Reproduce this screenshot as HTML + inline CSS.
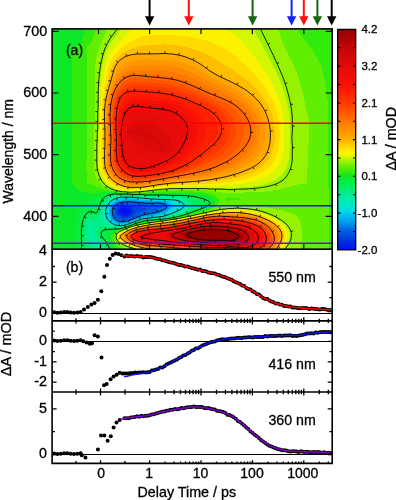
<!DOCTYPE html>
<html><head><meta charset="utf-8"><title>Transient absorption</title>
<style>html,body{margin:0;padding:0;background:#fff}svg{display:block}text{font-family:'Liberation Sans',Arial,Helvetica,sans-serif;fill:#000;stroke:#000;stroke-width:0.3px}</style>
</head><body>
<svg width="396" height="500" viewBox="0 0 396 500">
<rect width="396" height="500" fill="#fff"/>
<defs><clipPath id="hm"><rect x="52.1" y="28.9" width="280.09999999999997" height="220.29999999999998"/></clipPath>
<linearGradient id="cb" x1="0" y1="0" x2="0" y2="1"><stop offset="0.0000" stop-color="#960000"/><stop offset="0.0161" stop-color="#9f0101"/><stop offset="0.0323" stop-color="#a80202"/><stop offset="0.0484" stop-color="#b10303"/><stop offset="0.0645" stop-color="#ba0404"/><stop offset="0.0806" stop-color="#c30505"/><stop offset="0.0968" stop-color="#c90606"/><stop offset="0.1129" stop-color="#cf0707"/><stop offset="0.1290" stop-color="#d50808"/><stop offset="0.1452" stop-color="#db0909"/><stop offset="0.1613" stop-color="#e10a0a"/><stop offset="0.1774" stop-color="#e60b09"/><stop offset="0.1935" stop-color="#ea0c08"/><stop offset="0.2097" stop-color="#ef0d07"/><stop offset="0.2258" stop-color="#f30e06"/><stop offset="0.2419" stop-color="#f80f05"/><stop offset="0.2581" stop-color="#fa1305"/><stop offset="0.2742" stop-color="#fb1b04"/><stop offset="0.2903" stop-color="#fc2303"/><stop offset="0.3065" stop-color="#fd2c02"/><stop offset="0.3226" stop-color="#fe3401"/><stop offset="0.3387" stop-color="#ff3c00"/><stop offset="0.3548" stop-color="#ff4800"/><stop offset="0.3710" stop-color="#ff5400"/><stop offset="0.3871" stop-color="#ff6000"/><stop offset="0.4032" stop-color="#ff6c00"/><stop offset="0.4194" stop-color="#ff7800"/><stop offset="0.4355" stop-color="#ff8300"/><stop offset="0.4516" stop-color="#ff8e00"/><stop offset="0.4677" stop-color="#ff9900"/><stop offset="0.4839" stop-color="#ffa400"/><stop offset="0.5000" stop-color="#ffaf00"/><stop offset="0.5161" stop-color="#ffc300"/><stop offset="0.5323" stop-color="#ffd700"/><stop offset="0.5484" stop-color="#ffeb00"/><stop offset="0.5645" stop-color="#f7f700"/><stop offset="0.5806" stop-color="#d1f600"/><stop offset="0.5968" stop-color="#a4f300"/><stop offset="0.6129" stop-color="#78f000"/><stop offset="0.6290" stop-color="#57ed04"/><stop offset="0.6452" stop-color="#37ea08"/><stop offset="0.6613" stop-color="#16e81e"/><stop offset="0.6774" stop-color="#09ea32"/><stop offset="0.6935" stop-color="#04ec46"/><stop offset="0.7097" stop-color="#00ee5a"/><stop offset="0.7258" stop-color="#00ee72"/><stop offset="0.7419" stop-color="#00ee8a"/><stop offset="0.7581" stop-color="#00ed9e"/><stop offset="0.7742" stop-color="#00ebaf"/><stop offset="0.7903" stop-color="#00e9c0"/><stop offset="0.8065" stop-color="#00e4d1"/><stop offset="0.8226" stop-color="#00dce4"/><stop offset="0.8387" stop-color="#00c8eb"/><stop offset="0.8548" stop-color="#00b4eb"/><stop offset="0.8710" stop-color="#00a0eb"/><stop offset="0.8871" stop-color="#0089e8"/><stop offset="0.9032" stop-color="#0071e4"/><stop offset="0.9194" stop-color="#005ae1"/><stop offset="0.9355" stop-color="#004adf"/><stop offset="0.9516" stop-color="#003add"/><stop offset="0.9677" stop-color="#002be1"/><stop offset="0.9839" stop-color="#001deb"/><stop offset="1.0000" stop-color="#000ff5"/></linearGradient>
</defs>
<g clip-path="url(#hm)" shape-rendering="crispEdges">
<rect x="50" y="25" width="290" height="230" fill="#0be929"/>
<path fill="#05ec46" fill-rule="evenodd" d="M107 194L113 193.3L133 194.1L165 193.9L189 194.3L199 195.5L207 197.5L210 198.8L211.4 200L212.2 201L212.6 203L212 204.4L210.6 206L205 209L182.2 216L178 217.1L167.3 219L150 220.6L143 221.7L137 223.4L120.8 229L114 230.3L111 231.5L109.1 233L108.4 234L107.7 236L107.8 238L108.7 241L113.6 252L114.3 255L114.5 258L77 258L77.3 222L77.9 215L79.1 210L81 207.2L84 205.1L94 200.6L103 195.4Z"/>
<path fill="#00ee63" fill-rule="evenodd" d="M110 195L114 194.3L125 194.2L146 195.1L165 195.2L187 196L193 197.3L196.8 199L198.9 201L199.5 202L199.8 204L199.4 206L198.8 207L195.3 210L188.7 213L179.5 216L170.6 218L161 219.2L149 220.1L143 221.1L136 223.2L126 227L120 228.6L107 228.8L104 229.3L102.1 230L101 231L100.5 232L100.3 234L100.8 236L102 238.4L105.8 243L107.5 246L110 253L110.7 258L83.1 258L82.3 252L82.2 231L83.1 223L84.3 219L86 216.2L89 213.8L91 213.4L96 214.5L97 214.1L98 212.6L100.7 204L102.7 200L105.6 197Z"/>
<path fill="#00ee85" fill-rule="evenodd" d="M119 195L129 194.9L146 195.9L176 196.6L182 197.2L186 198.1L189.5 200L190.5 201L191.6 203L191.8 206L190.3 209L186.5 212L180 214.7L171.4 217L161 218.7L149 219.6L143 220.6L136 222.7L127.6 226L120 228L115 227.9L104 226.5L100.9 227L99.4 228L98.1 230L97.7 232L97.7 234L98.9 238L102.8 245L104.3 249L104.8 252L104.5 258L89.6 258L89.3 255L86.8 243L85.6 234L85.2 226L85.7 222L87 220.1L88 219.4L90 218.8L95 218.4L97 217.5L98 216.6L99.5 214L103 203.4L105 200.2L107 198.3L110 196.6L113 195.6Z"/>
<path fill="#00eda2" fill-rule="evenodd" d="M117 196L122 195.5L128 195.5L146 196.7L175 197.5L179 197.9L183.4 199L186.9 201L188.3 203L188.8 206L187.4 209L184 211.6L179 213.7L171.5 216L161 218.2L149 219.1L145 219.7L138 221.5L128 225.4L124 226.6L119 227.4L115 227L109 225.5L103.4 223L101.5 221L101 218L102.9 208L104 205L105.7 202L107.4 200L110.2 198L113 196.8ZM88 221.6L89 221.7L91 223L93.1 226L95.3 236L100.2 247L101.2 250L101.3 252L100 253.5L98 253.5L96 252.1L94 249L92 245L90 238.1L87.5 226L87.3 223Z"/>
<path fill="#00eab9" fill-rule="evenodd" d="M117 196.8L122 196.2L129 196.2L158 198.2L177 198.6L182 199.9L185 201.7L186.7 204L186.9 206L186 208.1L183 210.6L177.4 213L168.2 216L161 217.5L149 218.5L143 219.6L137 221.3L127.7 225L124.1 226L120 226.7L117 226.5L111.6 225L106.6 222L104.3 219L103.4 215L103.7 211L104.4 208L105.6 205L107.5 202L109 200.4L111 199L114 197.6Z"/>
<path fill="#00e4d2" fill-rule="evenodd" d="M122 197L131 197L151 198.8L176 199.7L180.9 201L182.6 202L184 203L184.8 204L185.2 206L184 208L180.9 210L171 214L165.1 216L160 217L145 218.5L138 220.4L126 224.9L121 225.9L119 225.9L115 225.1L112.5 224L108.6 221L107 219L105.6 216L105.2 214L105.3 211L106 207.8L107 205.4L109 202.4L110.4 201L115 198.4Z"/>
<path fill="#00d3e7" fill-rule="evenodd" d="M123 198L131 197.9L150 199.7L164 200.2L168 200.7L171 201.6L173 203L174.2 205L174.4 207L173.7 209L171.9 211L168.9 213L165 214.7L157 216.4L144 218.1L139 219.4L127 223.9L123 224.8L119 224.9L116 224.2L114 223.3L112 222L110.1 220L108.6 218L107.7 216L107.2 214L107.1 211L108.6 206L110 203.8L111.7 202L116 199.5L119 198.6Z"/>
<path fill="#00b7eb" fill-rule="evenodd" d="M125 199L130 198.9L150 200.6L160 200.8L165 201.2L167.7 202L169.4 203L170.9 205L171.1 207L170.5 209L168.8 211L166 212.7L162.7 214L157 215.3L143 217.5L138 219.1L130 222.2L125 223.6L121 224.1L117 223.5L115 222.6L112.7 221L111 219L109.8 217L108.8 214L108.6 212L109.3 208L110.2 206L111.6 204L115 201.3L119 199.8Z"/>
<path fill="#009aea" fill-rule="evenodd" d="M126 200L131 200L146 201.3L159 201.4L164 201.9L167 203L168.3 204L168.9 205L169.3 207L168.5 209L167 210.5L164.3 212L161 213.2L156 214.4L143 216.7L127 222.4L121 223.2L117 222.4L115 221.4L113.3 220L111.7 218L110.8 216L110.2 213L110.1 211L111.1 207L113 204.2L116 202.1L120 200.8Z"/>
<path fill="#0079e5" fill-rule="evenodd" d="M127 201L131 201L146 202.4L158 202.3L163 202.7L164.5 203L166.6 204L167.5 205L167.9 207L167 208.7L166 209.5L160.8 212L157 213.1L148 214.7L142 216.1L129 221.1L122 222.4L118.9 222L116.2 221L113.8 219L112.5 217L111.8 215L111.4 211L112 208L113 206L115 204L118 202.5L122 201.5Z"/>
<path fill="#0059e1" fill-rule="evenodd" d="M122 202.8L129 202.4L139 203.8L156 205.1L160 205.9L162.1 207L161.8 208L159 209.5L154 211.2L141 214.6L129 219.9L126 220.6L122 220.9L118.6 220L115.6 218L114 215.4L113.2 212L113.6 209L115.3 206L118.2 204Z"/>
<path fill="#0042de" fill-rule="evenodd" d="M120 204.8L123 204L128 204.4L132 205.3L137 207.3L141 207.3L146.2 208L147.2 209L144.9 210L138 212L132.9 216L129 218.2L126 218.9L123 218.8L120 217.9L118 216.7L116.4 215L115.5 213L115.5 210L116.3 208L118.1 206Z"/>
<path fill="#002de0" fill-rule="evenodd" d="M121 205.6L123 205.2L125 205.5L129 206.6L132 208L133.6 210L133.6 212L133 213L129.8 216L127 217.2L124 217.1L120 215.7L117.8 214L117.2 213L116.9 211L118.3 208Z"/>
<path fill="#0019ee" fill-rule="evenodd" d="M121 206.8L122 206.2L123 206.3L130 208.9L131.5 210L131.9 211L131.6 212L128.8 215L127 216.1L125 215.8L120 213.9L118.7 213L118 212L118 211Z"/>
<path fill="#000ff5" fill-rule="evenodd" d="M122 207.4L123 207.5L126 209.5L130.2 211L128.1 213L127 214.9L126 214.8L124 213.5L120 212.5L119.2 212L119 211L121 209.2Z"/>
<path fill="#32ea0b" fill-rule="evenodd" d="M89 22L335 22L335 258L118.1 258L117.8 255L116.9 252L112.5 243L111.2 239L111.1 237L111.6 235L113 233L114.2 232L117 230.6L133 225.1L141 222.8L150 221.2L162 220L175 218.1L183 216.3L204 210.4L209.9 208L212.8 206L214.2 204L214.6 203L214.6 201L213.6 199L212.7 198L209 195.8L202 194L193 193L186 192.7L165 192.6L133 193.6L109 192.1L93 192.8L87 192.5L83 191.7L79 190L76 188L73.2 185L72.4 183L72 181L71.8 174L72 53L72.5 50L74.5 47L77.4 45L80 44.3L81 43L84.4 33L87 27.9L88 24.7L88.4 22Z"/>
<path fill="#60ee03" fill-rule="evenodd" d="M97 22L296.1 22L297 27.1L300 33.7L304 39.8L308.7 45L312.3 50L315.8 56L320.8 66L322.2 70L323.6 76L327.5 99L328 104L328.2 113L328.8 258L122.7 258L122.3 255L121.2 252L115.2 243L113.5 239L113.4 237L113.9 235L115.2 233L116.4 232L124 228.7L132 225.9L139 223.8L151 221.6L168 219.6L178 217.9L205.4 211L211.1 209L214.7 207L216.8 205L218.2 203L218.9 201L218.9 200L218.5 199L216.9 197L214 195L209 193.2L203 192.1L190 191.2L173 191.1L163 191.3L149 192.4L133 193.2L122 192.6L116.4 192L105 189.7L99.4 188L91 184.4L89 183.8L88 183.9L87 183.4L86.6 179L86.5 171L86.7 50L87 46.7L90.1 44L93.3 37L95.7 29L96.5 22ZM224.8 199L225 200.2L228 200.6L236 200.2L239 199.6L246 199L238 198.5L228 198.4L226 198.5Z"/>
<path fill="#95f200" fill-rule="evenodd" d="M108 22.7L108 22L277.8 22L278.6 30L281.6 40L285.5 49L294.9 68L298.4 77L302.4 92L308.8 120L309.1 129L308.1 156L307 178L306.5 183L306 184.4L303 183.7L301 183.8L280 189.3L269 191.2L254 192.3L230 192.8L222 192.5L204 189.9L187 189.5L170 189.5L158 190.4L145 191.8L133 192.6L122 192.1L115.6 191L110 189.3L106.8 188L102.3 185L99.1 182L96.3 178L95.1 175L94.5 171L94.3 145L95.1 69L95.6 61L97.3 54L99.6 47L106.2 31L107.4 27ZM227 206L238 205.4L247 205.5L265 207.1L275.3 209L285 211.3L292 213.6L296 215.6L298 217.3L299.8 220L301 223.6L301.7 228L301.8 238L300.2 258L130.3 258L129.8 255L128.2 252L125.3 249L118 242.9L116.5 241L115.5 239L115.1 237L115.5 235L116.8 233L118 232L124.3 229L133 226L145 223.2L178 218.3L205.5 212L213.1 210L222 206.8Z"/>
<path fill="#d4f600" fill-rule="evenodd" d="M125 22L252.3 22L253.2 27L255.6 33L272 63.5L279.3 79L284.5 93L288.1 107L289.4 116L289.8 124L289.7 147L289.1 157L288 163L286.3 168L284 172.2L281 175.9L278 178.5L273.8 181L269 183L264 184.5L253 186.5L246 187.2L232 188.1L210 188.1L204 187.8L170 188.1L158 189.2L140 191.4L130 191.9L122 191.2L116 189.8L111 187.8L106 184.3L102.6 180L100.5 176L98.6 170L97.7 164L97.7 146L98.5 130L98.5 112L99 108L99.4 88L100.7 75L101.9 67L103.3 61L105.4 54L107.3 49L109.4 45L111.9 41L122 27.8L123.6 25L124.4 22ZM235 208.8L239 208.8L247 209.4L254 210.4L262 212.4L268 214.6L274 217.2L281 221.5L285.2 225L287.6 228L289.2 231L289.9 234L289.9 237L288.2 242L281.7 252L280.7 255L280.5 258L141.8 258L141.3 253L140.1 251L139.1 250L137.6 249L127 245.7L122 243.5L118.6 241L116.7 238L116.5 236L116.8 235L117.4 234L119.6 232L125.6 229L131 227L137 225.3L151 222.7L178 218.8L217 210.6L228 209.2Z"/>
<path fill="#fbf200" fill-rule="evenodd" d="M137 23.9L138 23.5L181 24.8L200 26.1L215 27.9L224 29.7L230 31.8L235 35L241 40.8L248 48.9L256 59.1L263 68.8L268.3 77L273 85.3L276.6 93L279.7 101L282 108.9L283.7 118L284.5 127L284.4 140L283.7 150L282.2 157L280 162.9L276.9 168L273.3 172L267.8 176L261 179.2L252 181.8L242 183.6L230.2 185L215 185.8L169 187L139 190.5L129 190.8L120 189.4L115.8 188L112 186.2L109 184.1L106.8 182L103.8 178L101.5 173L100 167L99.4 160L100.1 129L100.1 112L101.6 90L104.2 72L105.8 65L107.9 59L110 54.3L113 49.4L119 42.1ZM235 209.9L239 209.9L250 211L256 212.1L262 213.8L269 216.5L274 218.9L280 222.8L283.5 226L285.7 229L286.6 231L287.4 234L287.4 237L286 242L280.1 252L279.1 255L278.8 258L144.2 258L143.4 254L142.4 252L140.6 250L137.2 248L127 244.8L122 242.4L119 240L118.3 239L117.5 237L117.6 236L118.5 234L121 232L129.7 228L137 225.9L148 223.7L178 219.2L217 211.5L228 210.2Z"/>
<path fill="#ffd900" fill-rule="evenodd" d="M151 35L158 34.6L167 34.6L184 36L192 37.3L200 39L207 40.9L213.1 43L223 47.6L233 54.2L245 64.5L256 75.9L265 87.4L268.6 93L271.8 99L274.4 105L276.5 111L278 117L279 123L279.6 130L279.6 138L279 145L277.9 151L276.3 156L273.9 161L271 165.2L267.2 169L261.5 173L254 176.4L245 179.1L233 181.5L212 183.8L168 185.9L140 189.4L129 189.6L121 188.2L117 186.8L113.5 185L110 182.5L107.5 180L104.3 175L102.2 169L101.3 163L101.1 154L101.7 131L101.6 113L102.2 103L104.1 88L106.6 75L108.3 68L110.9 61L114 55.7L118 51L123 46.6L130 41.9L137 38.3L143 36.3ZM229 211L237 210.7L244 211.3L251 212.2L258 213.8L264.5 216L271.3 219L277 222.5L281 225.8L282.9 228L284.5 231L285.3 234L285.4 237L284 242L279.5 250L278.1 253L277.2 258L147 258L146.7 256L145.9 254L144.5 252L142.2 250L138 247.7L128 244.5L124 242.7L120 239.9L119 238.7L118.4 237L118.4 236L119 234.6L120 233.6L122.4 232L130 228.5L138 226.1L151 223.7L178 219.8L213 212.8Z"/>
<path fill="#ffbd00" fill-rule="evenodd" d="M150 45L164 44.4L177 45.4L189 47.8L201 51.9L207.8 55L215 58.9L233 70L246 79.4L251 83.7L256 88.5L263 96.9L266 101.4L268.5 106L270.7 111L272.4 116L273.6 121L274.5 127L274.9 133L274.8 139L274.3 144L273.3 149L271.6 154L269.6 158L267 161.7L264 164.9L260.2 168L256 170.5L250.7 173L244 175.3L236 177.5L228 179.3L209 181.9L168 184.7L142 188.3L131 188.6L124 187.6L119 186L114 183.3L109.9 180L107.4 177L105.3 173L104 169L103 164L102.8 153L103.3 131L103 114L103.6 104L104.7 96L110.8 70L113 64.1L115.4 60L119 56L123 52.8L129 49.7L135 47.6L142 46ZM227 211.9L239 211.8L247 212.6L257 214.7L263.8 217L270 219.7L275 222.7L279 226L281.6 229L283.1 232L283.6 235L283.5 238L282.3 242L276.4 253L275.5 256L275.2 258L151.6 258L151.2 256L150.1 254L146.9 251L140.5 248L126.3 243L121 239.8L120 238.8L119.1 237L119.1 236L120 234.6L123.8 232L130.2 229L140.6 226L151 224.1L178 220.3L213 213.5Z"/>
<path fill="#ffa700" fill-rule="evenodd" d="M137 54L166 53.5L176 54.6L181 55.6L186 57.1L192 59.4L196 61.4L215 74L238 85.3L245 89.4L250 93.1L258 100.7L262.7 107L265 111L266.7 115L269.4 124L270.4 132L270.4 139L269.9 143L268 150.3L266 154.8L263.9 158L259.1 163L256.4 165L252 167.6L245 170.8L238 173.3L229 176L221 177.8L209 179.9L190 181.9L167 183.6L141 187.3L134 187.4L129 187.3L123 186L120 184.8L116.5 183L112.4 180L109 176.2L107.2 173L105.7 169L104.6 163L104.4 153L104.9 148L104.9 135L104.9 128L104.5 124L104.5 111L105.5 101L107.5 92L113.9 70L115.1 67L117 63.6L120 60.1L124.6 57L130 55ZM225 213L229 212.6L238 212.6L247 213.6L252 214.6L261 217.2L267.5 220L272.8 223L276.7 226L279.6 229L281.3 232L281.8 234L281.8 238L280.1 243L274 253.7L273.2 256L273.1 258L167.2 258L167 254.1L166 252L164.9 251L162.5 250L149 248.9L145 248.2L136 246L130.4 244L126 242L121.8 239L120.4 237L120.4 236L121.1 235L123.7 233L127.2 231L133 228.6L142 226.2L154 224.2L178 220.9L211 214.5L218 213.5Z"/>
<path fill="#ff9800" fill-rule="evenodd" d="M136 60L146 59.3L165 59.7L175 61L184 63.3L190 65.5L196 68.4L212.6 78L236 89.7L241 92.6L245.8 96L252.4 102L257.9 109L261.5 116L264.1 124L264.8 128L265.1 133L264.4 141L263.4 145L262 148.7L258.2 155L255 158.6L251 162L246.4 165L240 168.3L233.4 171L225 173.7L217 175.8L208 177.6L195 179.5L167 182.4L148 185.2L139 186.2L131 186.2L125 185.1L120 183.3L115 180L111.8 177L109 172.8L107.1 168L106 162L105.8 154L106.3 138L105.8 113L105.9 109L107 101L108.8 93L111.8 84L115 75.9L118 70.3L121 66.7L125 63.6L130 61.4ZM221 214L229 213.5L237 213.6L243 214.2L252 215.7L259 217.7L264 219.6L270.3 223L274 225.8L277 229L278.9 232L279.7 235L279.8 238L278.3 243L271.9 254L271 258L170.3 258L169.9 255L168.6 252L166.6 250L165 249.2L160 248.2L145 247.3L137 245.7L132.2 244L127 241.5L124 239L123.1 237L123.5 235L124.2 234L127 231.9L132 229.5L140 227.2L151 225.2L169 223L181 221L208 215.5Z"/>
<path fill="#ff8800" fill-rule="evenodd" d="M138 64.9L149 64.6L164 65.3L174 66.7L183 69L194 73.4L212 82.6L229 90.8L236 94.6L242 98.6L248.2 104L253.1 110L257 117L259.4 124L260.3 132L259.7 139L257.5 146L254 152L250.5 156L247 159.1L242 162.6L236 166L230 168.7L223 171.3L216 173.4L207 175.5L194 177.7L171 180.6L148 184.1L140 184.9L132 184.9L127 184.3L122 182.8L117 179.9L113 176.1L110.3 172L108.4 167L107.5 162L107.1 155L107.7 138L107 114L107.5 106L108.3 101L109.9 94L112.3 87L116 79.1L119.4 74L123 70.4L127 67.9L132 66ZM216 215L222 214.6L235 214.6L243 215.2L249 216.1L256 217.7L261 219.4L266.4 222L270.9 225L274.1 228L276.3 231L277.6 234L278 238L277.5 241L276.8 243L275.2 246L270.3 253L269.3 255L268.7 258L173 258L172.4 255L171.4 253L169.7 251L166.6 249L164 248.2L161 247.7L144 246.5L136 244.7L131.4 243L127.7 241L125.4 239L124.5 237L124.5 236L125.5 234L127.9 232L133 229.7L140 227.8L151 225.7L169 223.6L178.8 222L205 216.5Z"/>
<path fill="#ff7900" fill-rule="evenodd" d="M135 69.9L144 69.5L161 70.5L172 71.9L181 74.1L188 76.5L196 79.9L227 94.4L237 100L243 104.6L248 110L252 116L254.9 123L256 129L255.9 136L254.3 142L251 148.4L248 152.2L244.1 156L240 159.3L234.1 163L228 166.1L220.9 169L207 173.2L191 176.4L152 182.4L142 183.6L134 183.7L129 183.4L124 182.2L119 179.8L115.6 177L112 172L109.9 167L108.8 162L108.4 155L109.1 138L108.3 115L109 104L110.6 96L112.6 90L115.4 84L119 78.6L122 75.4L126 72.6L130 71ZM212 215.9L221 215.2L236 215.6L242 216.1L252 217.7L261 220.4L266 223L270 225.8L272.2 228L274.4 231L275.8 234L276.4 237L276.3 240L275.4 243L273 246.9L266.9 254L266 256L265.6 258L176.8 258L176.1 255L174.9 253L172.8 251L169.3 249L164 247.5L144 245.8L136 244.2L132.9 243L129.1 241L126.6 239L125.5 237L125.8 235L128 232.6L133.8 230L140 228.3L153 226L169 224.1L182 222.1L205 217Z"/>
<path fill="#ff6800" fill-rule="evenodd" d="M135 74L140 73.9L165 76.1L172 77.1L179 78.8L185 80.7L194 84.3L208.7 91L225 97.9L234 102.6L239 106.1L244.8 112L249 118.2L251 123L252.3 128L252.3 135L251 140L248.5 145L245.5 149L240.6 154L235.5 158L230.9 161L225.4 164L218.6 167L206 171.2L188 175.1L155 180.8L143 182.3L130 182.3L124.1 181L120 179L116.5 176L113 171L111 166L110 161L109.6 155L110.4 137L109.5 116L110.1 105L111.2 99L113 92.7L115 88.1L119 81.9L122.8 78L126 75.9L130 74.5ZM217 215.9L236 216.6L246 217.6L254 219.2L259 220.7L262 222L266 224.3L269 226.6L273 231.6L274.2 234L275 237L274.9 240L274.1 243L272.1 246L270 248.1L261.3 254L259.8 256L259.3 258L185.3 258L184.5 255L183 253L180.5 251L178 249.8L171.8 248L165 247L149 245.7L138 244.1L134 242.8L130.4 241L127.8 239L126.5 237L126.7 235L128.7 233L132.6 231L140 228.8L151 226.8L169 224.7L180 223L208 217Z"/>
<path fill="#ff5700" fill-rule="evenodd" d="M136 78L142 78.3L164 80.4L172 81.6L179 83.3L193 88.5L219.1 100L227 104.1L232.4 108L237.4 113L240.8 118L243 123L244.2 129L244 134L242.7 139L240.2 144L237.4 148L233.6 152L228.8 156L224 159.3L218 162.6L211 165.8L197 170.6L182 174.3L163 178.1L154 179.7L142 181.1L134 181.2L130 180.8L125 179.5L121 177.4L118 174.8L114.6 170L112.8 166L111.6 161L111.1 155L111.7 136L110.9 117L111.5 106L112.8 99L114.5 94L117 89.1L120 85.2L123 82.3L127 79.8L131 78.5ZM215 217L220 216.6L242 218L252 219.7L260 222.4L264 224.6L267.1 227L270.5 231L272 234L272.9 237L272.9 240L272.4 242L271.3 244L269 246.7L265 249.4L261 250.6L254 251.3L236 249.7L193 248.5L190.8 248L176 247.5L149 245.1L141 244.1L135 242.5L130 239.9L128.2 238L127.7 237L127.6 236L128 235L130.1 233L133 231.5L140 229.3L151 227.4L177 224.2L206 218.1Z"/>
<path fill="#ff4600" fill-rule="evenodd" d="M135 81.9L143 81.9L159 83.3L169 84.7L177 86.5L186 89.3L196 93.4L211 100.2L220 105.1L225.4 109L229.4 113L232.9 118L235 123L235.9 128L235.7 134L234.3 139L231.7 144L228.7 148L224.7 152L220 155.7L214.9 159L208 162.7L200.9 166L185 171.6L176 174L163 176.8L151 178.8L142 179.8L136 179.9L131 179.5L127 178.4L123 176.5L119.8 174L116.6 170L114.3 165L113.1 160L112.6 155L113 138L112.3 117L113 107L113.8 102L115.3 97L117.2 93L120 89.2L123 86.4L127 84L131 82.6ZM212 217.9L220 217.3L242 218.9L252 220.7L258 222.7L264 226.2L266.2 228L268.6 231L270.1 234L270.8 237L270.8 240L270.3 242L269.3 244L267.7 246L265.2 248L263 249.1L257 250.5L248 250.6L246 250L236 249.1L207 248.6L203 248L193 247.8L169 246.3L149 244.5L141 243.5L135 241.9L132 240.6L130 239.2L128.7 237L129.2 235L131.4 233L135 231.4L140 229.8L150 228.1L174 225.2L203 219.3Z"/>
<path fill="#fe3701" fill-rule="evenodd" d="M132 85.8L139 85.3L151 86L164 87.4L174 89.3L182 91.6L191 94.9L204 100.6L213 105.2L218 108.4L222.2 112L225.6 116L228.3 121L229.7 126L229.9 131L229 136L226.9 141L224.1 145L220.4 149L215.7 153L210 157L203.3 161L195.6 165L188.8 168L180.7 171L172 173.6L164 175.4L151 177.5L141 178.6L136 178.7L132 178.2L128 177.2L125 175.8L121.2 173L118 169L115.9 165L114.6 160L113.9 151L114.2 139L113.8 130L113.8 114L114.5 107L115.4 102L116.7 98L118.8 94L121 91.3L124 88.9L128 86.9ZM210 219L220 218.1L234 218.8L247 220.6L255.9 223L260 224.9L263 226.9L265.3 229L266.9 231L268.4 234L269.1 237L269.1 240L268.6 242L267.6 244L266 246L264 247.6L262 248.6L257 250L254 250.3L249 250.2L236 248.8L220 248.2L207 248.1L204 247.7L193 247.3L190 246.9L162 245.3L149 244L141 242.9L135 241.3L131 239.3L129.8 238L129.5 237L130.1 235L132.5 233L137.7 231L142 229.9L150 228.6L161 227.6L170 226.4L183 224.1L197 221.1Z"/>
<path fill="#fd2c02" fill-rule="evenodd" d="M132 88.9L138 88.6L152 89.5L164 90.8L173 92.5L181 94.7L189 97.6L200 102.3L208 106.2L213 109.2L217.8 113L221.3 117L223.5 121L224.8 125L225.2 130L224.6 134L222.6 139L220 142.7L217 146L212.5 150L205.8 155L193 163.2L185.7 167L178.6 170L171 172.5L164.6 174L150 176.4L141 177.4L136 177.4L132 176.9L129 176.1L126.5 175L122.4 172L119.9 169L117.6 165L116 160L115.5 157L115.1 150L115.5 139L115 131L115 116L115.5 110L116.5 104L117.6 100L119.5 96L122 93.1L124 91.5L128 89.7ZM219 218.9L227 219L242 220.6L252.9 223L257.9 225L261 226.8L263.7 229L266.4 233L267.4 236L267.6 238L267.4 241L266.7 243L265.4 245L263.3 247L259.1 249L254 249.9L249 249.9L229.9 248L207 247.7L169 245.2L152 243.7L141 242.3L137 241.3L133.3 240L131.6 239L130.5 238L130.2 237L131 235L133.9 233L139.5 231L143 230.2L150 229.2L165 227.8L178 225.6L203 220.6L212 219.4Z"/>
<path fill="#fc2003" fill-rule="evenodd" d="M133 92L144 92.3L156 93.3L170 95.4L177 97.2L186 100.3L192.3 103L202.2 108L208 111.8L211.7 115L214.3 118L216.6 122L217.8 126L218.1 130L217.3 134L215.5 138L212.8 142L209.1 146L203.6 151L196.1 157L190.5 161L183.9 165L175.5 169L169.7 171L162 172.9L145 175.6L140 176L136 176L131 175L128 173.9L123.9 171L121 167.6L118.5 163L117.3 159L116.4 150L116.7 144L116.6 135L116.2 131L116.4 117L117 111L118.2 105L119.6 101L121 98.3L123 95.8L126 93.7L129 92.6ZM217 220L220 219.6L226 219.8L241 221.3L250 223.3L257 226L261.5 229L263 230.6L264.6 233L265.6 236L265.9 238L265.9 240L264.9 243L262.4 246L259.1 248L254 249.3L248 249.5L230 247.7L207 247.2L157 243.7L142 241.9L137 240.8L133 239L131.9 238L131.5 237L131.7 236L132.5 235L133.9 234L138.3 232L142 231L146 230.3L161 228.9L171 227.5L204 221.1L212 220.1Z"/>
<path fill="#fb1504" fill-rule="evenodd" d="M135 96L143 95.9L154 96.8L163 97.9L171 99.5L178 101.7L184 104.1L190 107.3L195.3 111L199.6 115L202.6 119L204.6 123L205.8 128L205.7 133L204.4 138L201.9 143L198.2 148L191.5 155L183 161.6L175 166.1L166 169.5L152 172.8L145 173.9L139 174.3L136 174.1L132 173.3L128.7 172L125.6 170L123 167.4L120.8 164L119.2 160L118.3 156L117.8 150L117.4 130L118.1 117L120 108L121.3 105L123.2 102L125 100L128 97.9L131 96.7ZM211 220.9L220 220.4L233 221.2L243 222.6L251.7 225L257.6 228L260 230L261.7 232L262.8 234L263.7 237L263.7 239L263.3 241L261.7 244L260 245.7L257.9 247L253 248.8L248 249.1L227 247.1L209 246.9L157 243L149 242.3L139 240.7L135 239.4L133.5 238L133.3 237L133.6 236L135 234.5L137.9 233L143 231.5L151 230.2L156 230L171 228.1L201 222.2Z"/>
<path fill="#f70e06" fill-rule="evenodd" d="M133 100L138 99.3L146 99.6L160 101.1L169 102.7L175 104.5L181 107.1L186 110L191 114.1L194.3 118L197.1 123L198.4 128L198.4 133L197.3 138L195.1 143L191.2 149L186.8 154L179.6 160L172 164.5L163 168L151 171.3L143 172.4L139 172.5L135 172.2L132 171.5L129 170.2L125 167.3L123.1 165L121.4 162L120.4 159L119.5 155L119 149L118.5 131L119.1 121L119.7 117L120.9 112L122.1 109L123.8 106L126 103.5L128 102L130 100.9ZM207 221.9L213 221.3L220 221.1L225 221.4L241 223.2L250 225.5L256 228.5L259.8 232L261 234L261.7 236L261.9 239L261.4 241L259.5 244L255.3 247L253 247.9L250 248.5L245 248.6L227 246.8L210 246.4L149 241.7L138 240L135.4 239L134.5 238L134.4 237L134.8 236L137 234.3L140.2 233L145 231.8L175 228Z"/>
<path fill="#f00d07" fill-rule="evenodd" d="M134 102.9L139 102.6L149 103.4L162 104.8L170 106.5L175 108.1L180 110.6L184.6 114L188 117.4L190.5 121L192.5 126L193.1 131L192.4 136L190.7 141L187.5 147L183.7 152L178.6 157L172 161.5L165 164.9L153 169L146 170.5L138 170.9L133 170.1L128.2 168L124.9 165L122.9 162L121.8 159L120.8 155L120.2 150L119.7 130L120.5 121L122.2 114L123.4 111L125.1 108L127 106L129 104.6L131 103.6ZM211 222L220 221.8L237 223.5L244 224.7L249 226.1L255 229.3L257.1 231L258.7 233L259.8 235L260.3 237L260.4 239L259.8 241L257.6 244L254 246.5L249.2 248L245 248.2L227 246.4L210 246L176 242.9L149 241.1L140.7 240L136.6 239L135.3 238L135.2 237L135.9 236L137 235.2L140 233.9L145 232.5L154 231.1L179 228.1L201 223.5Z"/>
<path fill="#ea0c08" fill-rule="evenodd" d="M133 105.8L138 105.6L152 107.3L160.8 108L170.7 110L177.5 113L180.3 115L184.4 119L187 123L188.2 126L188.7 130L188.3 134L186 141L183.1 147L180.3 151L176.6 155L171.2 159L163.6 163L153 167L145 169L135.7 169L131.9 168L129.6 167L126 164L124 160.7L122 153.3L121.5 143L121 140L121 128L122 121L123 117L125 112.1L126 110.4L128 108L130 106.8ZM208 223L212 222.5L220 222.6L237 224.4L245.2 226L250.5 228L255.1 231L257 233L258 234.6L259 237.9L258.9 239L257.5 242L254.3 245L249.9 247L245 247.7L227 246L203 245L163 240.9L148 240L147 239.6L140 239L136.6 238L136.6 237L137.8 236L140.1 235L147.6 233L179 228.8L201 224.1Z"/>
<path fill="#e40b09" fill-rule="evenodd" d="M141 114L145 114L150 114.8L156 116.3L161 118L165.1 120L169 122.5L172 125.2L174.3 128L176.1 131L177.3 135L177.6 138L177.1 142L175.8 146L173.5 150L171 153L168.6 155L164 157.2L159 158.4L152 158.9L146 158.3L141 156.9L136 154.3L132 150.9L129 147L126 141.5L124.1 136L123.6 132L124.4 128L127 122.6L131 117.9L135 115.3L138 114.4ZM206 223.9L212 223.2L219 223.3L236 225.3L241 226.1L245 227.2L250 229.6L253.8 233L254.9 235L255.5 237L255.1 240L253.2 243L250 245.3L245 246.9L241 247L221 245.2L203 244.4L179 242L168.5 240L166.7 239L165.1 237L164.9 236L165.3 234L167.4 232L169 231.3Z"/>
<path fill="#dc0909" fill-rule="evenodd" d="M140 120.8L142 120.7L145 121.1L148 122.1L152.2 124L157.2 127L164 131.6L168 134.8L170 136.8L171.3 139L171.4 141L168.4 149L167 151.2L165 152.5L162 152.8L157 152L152 150.4L145 147.4L138 143.8L133 140.6L129 137.1L127 134.6L126.4 133L126.4 131L127 129.9L129 127.7L135 123.1L138 121.4ZM212 224L218 224.1L232 225.6L240 226.9L244 228.1L248 230.1L251.3 233L252.8 236L252.9 238L252.5 240L250.4 243L247 245L243 246L237 246L221 244.7L203 243.9L179 241.3L174 240.4L170 239L168.6 238L167.6 236L168.1 234L168.9 233L170.5 232L173 231.2L202 225.2Z"/>
<path fill="#d40808" fill-rule="evenodd" d="M140 124.8L141.4 125L145.7 128L151.2 133L152.5 135L152.8 136L153.8 137L157.7 139L160.5 141L163 144.5L165 149.1L164 149.8L159.6 147L152.2 141L149 137.2L135 135.1L132 134.3L128.9 133L128.2 132L129 131.3L135 130.6L137 129.9L138.7 128L139.2 126ZM209 224.9L216 224.8L223 225.3L235 226.8L242 228.5L246 230.4L249.3 233L250.9 236L251.1 238L250.6 240L249.2 242L248 243L246 244.1L243 244.9L238 245.2L224 244.7L194 242.6L180 240.8L172 238.8L170 237.5L169.2 236L169.2 235L170 233.6L171 232.9L174 231.7L196 226.9L202 225.8Z"/>
<path fill="#cb0606" fill-rule="evenodd" d="M207 226L215 225.5L223 226.1L235 227.7L240.3 229L244.7 231L248 233.6L249.4 236L249.4 239L248.4 241L247 242.2L245 243.3L242.1 244L238 244.4L224 244.2L221 243.7L201 242.7L185 241L175.2 239L172.5 238L170.9 237L170.3 236L170.4 235L171 234L172.8 233L176 232L194 227.8L203 226.2Z"/>
<path fill="#c20505" fill-rule="evenodd" d="M203 226.9L209 226.4L216 226.4L228 227.4L237 229.1L241.8 231L244.6 233L246.6 236L246.7 238L245.9 240L244.9 241L242 242.6L238 243.5L230 243.7L201 242.2L190 241.1L183 239.7L180 238.4L178.6 237L178.3 235L178.7 234L179.6 233L181.2 232L183.7 231L190 229.3Z"/>
<path fill="#b60404" fill-rule="evenodd" d="M201 228L209 227.2L215 227.1L227 228.1L234 229.4L239 231.1L242 233L243.5 235L243.8 236L243.7 238L243.3 239L242 240.6L239 242.1L234 243L227 243L201 241.6L190 240.3L184 238.7L182.8 238L181.5 236L181.7 234L182.4 233L185 231.5L190 230Z"/>
<path fill="#a90202" fill-rule="evenodd" d="M209 228L216 228L224 228.6L230 229.5L235 230.7L239 232.3L241 233.8L242.1 236L241.9 238L240.5 240L237 241.7L233 242.3L227 242.3L205 241.3L196 240.5L189 239.4L186 238.5L184 237.4L183 236L183.2 234L184 233L185.7 232L188.5 231L200 228.8Z"/>
<path fill="#9c0101" fill-rule="evenodd" d="M207 229L219 228.9L228 229.9L232 230.8L235.9 232L239 233.5L240.5 235L240.9 237L239.8 239L237 240.7L233 241.5L228 241.6L223 241.2L206 240.9L196.9 240L187.2 238L185 237L184 235.5L184.3 234L185.5 233L187.6 232L191 231L201 229.4Z"/>
<path fill="#960000" fill-rule="evenodd" d="M207 230L219 229.8L227.9 231L231.4 232L236 234L238.5 236L238.6 237L238 238L236.5 239L233.8 240L232 240.2L228 240.5L206 240.2L196.5 239L189.7 237L187.6 236L186.5 235L187.6 234L189.6 233L192.7 232L201 230.4Z"/>
</g>
<g clip-path="url(#hm)" fill="none" stroke="#000">
<path stroke-width="0.85" stroke-linejoin="round" d="M125.5 201.9L122 202.3L119.5 202.8L117.5 203.6L115.8 204.5L114.5 205.5L113.8 206.5L113 208L112.3 211L112.3 212L112.8 215L113.3 216.5L114.5 218.4L115.5 219.4L117 220.4L118.2 221L121 221.6L122.5 221.7L126.5 221.2L129 220.5L133.3 219L138 216.8L142 215.3L148.5 213.7L150 213.5L155.2 212.5L160.4 211L162.8 210L164.7 209L166.1 208L166.4 207.5L166.6 207L166.7 206.5L166.5 205.8L165.9 205L165.2 204.5L164.1 204L163 203.7L159.5 203.1L156.5 203L153 203.4L145.5 203.3L142.5 202.9L139 202.7L137 202.4L133 202.2L130.5 201.8L127.5 201.7L125.5 201.9M120.5 197.4L118 197.8L114.5 198.9L111.6 200.5L110.3 201.5L109 203L107.1 206L106.2 208.5L105.7 210.5L105.6 211.5L105.6 214L106.1 216L107.2 218.5L108.7 220.5L110.8 222.5L113.1 224L114.5 224.7L116 225.2L119 225.7L121 225.8L124 225.2L126.5 224.6L130 223.5L137 220.7L142.5 219L148 218L151.5 217.8L153.5 217.4L157 217.2L160.5 216.7L164 216.1L166 215.5L170.2 214L176.2 211.5L179.4 210L182.1 208.5L182.7 208L184 206.6L184.2 206L184.2 205.5L184 204.5L183.2 203.5L181.9 202.5L180.2 201.5L179 201L175.4 200L166.5 199.5L157.5 199.4L155 199L150.5 199L148.5 198.6L145 198.5L142.5 198.1L139.5 198L137.5 197.6L133.5 197.5L131 197.2L123 197.1L121.5 197.2L120.5 197.4M111.8 258L111.7 255L111 252.3L110.5 250.9L108 245L106.5 242.4L102.7 238L102 236.7L101.5 235.6L101.1 234L101.2 232.5L101.8 231.5L103.1 230.5L104.3 230L107.5 229.4L118 229L120 228.8L127.5 226.6L132.5 224.6L138 222.6L141.5 221.6L146 220.7L149.5 220.1L153 220L155.5 219.6L161.5 219.3L163.5 218.9L167.5 218.6L171.3 218L178.3 216.5L183.6 215L191.1 212.5L193 211.7L198 210L203.3 208L207 206L208.9 204.5L209.5 204L210 203.1L210 202.4L209.2 201.5L207.5 200.5L205.1 199.5L202.2 198.5L196.6 197L195 196.8L193.5 196.4L190.5 196.1L188 195.7L180 195.4L168.5 195.3L165 195L146 195L142.5 194.6L132.5 194.6L129 194.2L116.5 194.1L113 194.1L110 194.7L107.5 195.5L105.5 196.5L104.5 197.2L103.2 198.5L102.1 200L100.3 203.5L98 210L97 212.3L96.5 213L96 213.2L95.5 213.1L93 211.9L91.5 211.4L90.5 211.4L89 211.8L87.5 212.7L86 214.1L85 215.5L83.8 218L82.9 220.5L82.3 223L81.9 226L81.7 228.5L81.4 231L81.5 247.5L81.1 250.5L81.1 252.5L81.2 254.5L81.9 258M257.7 22L258 23.2L260.5 29L273.4 55.5L276.8 63L280.3 71L282.8 77L286.3 87L287.7 92L289.2 97.5L290.7 104.5L291.7 111L291.9 114L292.2 115.5L292.3 117L292.4 131L292.3 132L292 134L291.9 137.5L292 141.5L292.3 143.5L292.4 145L292.2 160L291.7 164L291.1 166.5L290.3 169L288.9 172.5L286.8 176L284.8 178.5L282 180.8L278.2 183L274.5 184.6L272 185.4L268.5 186.3L265.5 186.9L262.5 187.4L260.5 187.6L258.5 188L255.5 188.2L254 188.5L249.5 188.7L247 189L236.5 189.2L233.5 189.6L230 189.6L227.5 189.6L224.5 189.2L209 189L206 188.6L204.5 188.6L170 188.6L167 189L162.5 189.2L161 189.4L158.5 189.6L156.5 189.9L154 190.1L152.5 190.4L150.5 190.6L148.5 190.9L146.5 191L144.5 191.4L142 191.5L140 191.8L135 191.9L132 192.2L128 192.1L126 191.8L122.5 191.7L118.2 191L114.5 190L111 188.7L108 187.1L105.8 185.5L104.5 184.3L102.2 181.5L100.7 179L99.7 177L98.7 174.5L97.9 171.5L97.4 169L96.8 164.5L96.8 145L96.9 143.5L97.2 141L97.3 132.5L97.7 129.5L97.7 112L97.7 110.5L98 109L98.1 107.5L98.3 87L98.7 84L98.8 79.5L99.2 77L99.3 74L100.4 66.5L101.4 61L102.4 57L103.6 52.5L104.8 49L107.2 43.5L109.2 40L111.2 37L117.6 28.5L119.5 25.7L120.5 24.1L121.5 22M140.4 258L140.3 255L140 253L139 251.4L137.6 250L136.6 249.5L134 248.5L127 246.4L124 245.1L120.5 243.2L119 242.1L117.9 241L117.1 240L116.5 239L116.1 237.5L116 236.5L116.2 235.5L116.6 234.5L117.2 233.5L118.3 232.5L119.8 231.5L123.9 229.5L130.5 227L137 225.1L142 224.1L151 222.5L168.5 220.1L178 218.6L188.5 216.4L208.5 211.9L219.5 209.7L221.5 209.5L223 209.1L225.6 209L227.5 208.6L233 208.5L235 208.2L237.5 208.1L240 208.2L242 208.5L247 208.7L248.7 209L251 209.1L252.7 209.5L254 209.6L257 210.2L261 211.2L267 213.1L273.5 215.8L279 218.8L281.5 220.3L284 222.2L286.1 224L287.5 225.5L289.4 228L290.8 231L291.2 232.5L291.4 233.5L291.3 237.5L290.7 240L289.3 243L287.3 246L284 250.4L283 252.1L282 254.7L281.8 258M167.3 258L167.1 254.5L166.5 252.8L166 252L165.5 251.5L164.9 251L164 250.5L162.6 250L161.5 249.8L160.5 249.5L149.5 248.9L147.5 248.5L144.5 248.1L137.5 246.4L134 245.3L128.5 243.2L126 242L124.4 241L121.7 239L121 238.2L120.5 237.5L120.3 237L120.2 236.5L120.3 236L120.6 235.5L121.1 235L123.7 233L127.2 231L130.6 229.5L134.5 228.2L138 227.1L142 226.2L147.5 225.2L154.5 224.1L156.5 223.9L158 223.6L165 222.9L166.5 222.6L168.5 222.4L172.5 221.9L181 220.4L205 215.5L217.5 213.5L220 213.4L222 213.1L226 212.9L228.5 212.6L235.5 212.5L238 212.6L240 212.9L243 213.1L245 213.4L247 213.6L252.5 214.7L257.5 216L262 217.6L267.5 220L272 222.4L274.9 224.5L278.3 227.5L279.5 228.9L280.2 230L281.3 232L281.8 234L281.9 237L281.6 239L281 241L279.8 243.5L275.6 250.5L274.1 253.5L273.2 256L273.1 258M161 53.5L166 53.5L168.5 53.8L172.5 54L178.5 55L181 55.6L186 57.1L192.5 59.7L196.5 61.7L200.5 64.2L203.5 66.2L209.3 70.5L215 74L219.7 76.5L231 81.8L237 84.8L244.5 89.1L247.5 91.2L252.3 95L255.5 98.1L258.5 101.2L261.4 105L264.2 109.5L265.2 111.5L266.9 115.5L267.9 118.5L269.4 124L270.3 130.5L270.4 133L270.3 140L270 141.5L269.8 143.5L269.3 146L268.8 148L268 150.4L266.5 153.9L265.5 155.6L264 157.9L262 160.2L259.1 163L256.5 165L252.5 167.4L249.5 168.9L244.5 171L238.5 173.2L234.5 174.4L227.5 176.4L221 177.8L209 179.9L203 180.5L201 180.9L198 181L195.5 181.4L192.5 181.5L190 181.9L186 182L183 182.4L178.5 182.5L176 182.9L172.5 183L170 183.4L167 183.6L165 183.9L159 184.6L148.5 186.4L141 187.4L130 187.4L126.5 186.9L124 186.3L120 184.8L116.5 183L112.5 180.1L111 178.6L108.5 175.5L107 172.5L105.6 168.5L105.1 166.5L104.6 163L104.5 152L104.5 150.5L104.9 148L104.9 136.5L104.9 128.5L104.6 126L104.5 124.5L104.5 109.5L104.9 106.5L105.1 103.5L106.6 96L108.6 88.5L114 69.5L115.3 66.5L116.7 64L118.5 61.6L119.5 60.5L121.5 58.9L123.7 57.5L125.5 56.6L128 55.6L131.5 54.7L134 54.4L136 54L158 53.8L161 53.5M130 76L131 75.7L132.5 75.6L139.5 75.6L149.5 76.8L152.5 77L155 77.3L158.5 77.5L161 77.9L164 78L171.5 79.1L176.5 80.1L183.5 82.2L192 85.6L207.4 92.5L224 99.3L226.6 100.5L230.5 102.5L233.1 104L236.8 106.5L240.8 110L243.5 113.1L245 115.1L246.5 117.4L248 120.1L249 122.5L250 125.4L250.6 128L250.7 129.5L250.7 133.5L250.5 135.4L249.5 138.9L248.5 141.3L247 143.9L246 145.4L244.4 147.5L241.7 150.5L238 153.9L233.3 157.5L229.5 160L226 162L222 164L215 167.1L211.1 168.5L205.5 170.3L197.5 172.3L188 174.3L186.5 174.5L182.5 175.4L181 175.6L154.5 180.4L151 180.9L149 181.1L147.5 181.4L144.5 181.6L142.5 181.9L136.5 182L130.5 181.9L127.5 181.3L125 180.6L123.3 180L121.3 179L119 177.5L117.5 176.1L116.5 174.9L114.4 172L113 169.5L111.8 166.5L111.2 164L110.6 161L110.5 157.5L110.2 155.5L110.5 153L110.6 145.5L110.9 142.5L111 136L110.9 134.5L110.5 132L110.5 122L110.1 119L110 116.5L110.1 112.5L110.4 110L110.6 105.5L111.7 99.5L113 94.6L114.5 90.8L115.5 88.8L117 86.2L119 83.4L120.5 81.6L123 79.3L126 77.4L128 76.5L130 76M215.5 216.5L217.5 216.2L220.5 216.1L223 216.4L228 216.5L230.5 216.8L236 217L238.5 217.4L242.5 217.5L244 217.9L246.5 218.1L252.5 219.2L257.5 220.6L261 222L263 223.1L265.5 224.6L268.6 227L270 228.5L272.1 231.5L273.6 234.5L274.3 237L274.3 239L274.2 240.5L273.5 242.7L272 245.1L270.2 247L269 248.1L267 249.3L265.5 250.1L263.5 250.8L261 251.5L258 251.8L254 252L252 251.9L247.5 251.9L246 251.5L239 251.5L236.5 251.3L222 251.4L221 251.2L220.5 251L219.5 250.9L205.5 250.4L204.5 250.3L203.5 250L192.5 249.5L190.5 249L183.5 248.7L180.5 248.2L174.5 247.9L172.5 247.5L167 247.1L164.5 246.7L160.5 246.5L158 246.1L154.5 246L152 245.6L149 245.5L147 245.1L144.5 245L141 244.4L138 243.8L135 242.9L131.5 241.3L130 240.4L128.3 239L127.2 237.5L126.8 236.5L126.9 235.5L127.5 234.5L128.5 233.5L129.2 233L131.5 231.7L133 231.1L136 230.1L140 229L144.5 228.1L150.5 227.1L156 226.5L158 226.1L160.5 226L162.5 225.6L165 225.5L167 225.1L169.5 224.9L171 224.6L173 224.4L177 223.8L182.5 222.8L196.5 219.7L205.5 217.7L212 216.7L215.5 216.5M130.5 91.5L132.5 91.2L136.5 91.1L139 91.4L144.5 91.6L147 92L151.5 92.1L153.5 92.4L156.5 92.6L158.5 92.9L161 93.1L165 93.7L170 94.6L174.5 95.7L178 96.7L186 99.3L192 101.8L198.2 104.5L202.3 106.5L209.5 110.5L214.2 114L217 116.8L218.5 118.9L219.5 120.5L220 121.4L221 124L221.5 126L221.6 127L221.5 131.8L221 133.6L220 136.1L218 139.3L214.4 143.5L210.5 147L203 153.1L196.4 158L192.1 161L189.7 162.5L183.5 166L177 169L174.4 170L169.7 171.5L165 172.7L157 174.2L145.5 175.9L142.5 176L140 176.4L136 176.3L132.5 175.8L130.5 175.3L127.5 174.1L126 173.1L123.5 171.2L122.4 170L120.5 167.5L119.5 166L118.3 163.5L117.1 159.5L116.6 156.5L116.4 152L116.1 150L116.4 147.5L116.5 142.5L116.4 135L116.1 133L116 131.5L116.1 117L116.5 114L116.7 110.5L117.8 104.5L119 100.5L120.5 97.5L121.5 96.1L122.5 95L123.7 94L125 93.1L127.7 92L130.5 91.5M220 219.5L226.5 219.6L229.5 220L233.5 220.1L241.5 221.2L246.5 222.2L250.5 223.2L254.5 224.5L257.5 225.9L259.4 227L262.1 229L263.5 230.5L265 233L266.1 236L266.4 238L266.2 240.5L265.4 243L264.4 244.5L262.4 246.5L260.7 247.5L258.5 248.5L256.9 249L254 249.6L248.5 249.6L246.5 249.3L241.5 248.9L236.5 248.3L232 248L229.5 247.7L219.5 247.4L207.5 247.4L204.5 247L199.5 246.9L196.5 246.5L192.5 246.4L190 246L185.5 245.9L182.5 245.5L177.5 245.4L174.5 245L169.5 244.8L167 244.5L162.5 244.3L160.5 244L157 243.8L155 243.5L152.5 243.4L141.5 241.9L137 240.9L135 240.2L132.6 239L131.5 238L131.1 237.5L131 237L131.3 236L132 235L132.6 234.5L134.3 233.5L137.9 232L140 231.3L142.5 230.8L145.5 230.2L148.5 230L150.5 229.6L155.5 229.4L158 229L161 228.8L170.5 227.4L181 225.5L197 222.2L199 221.9L203.5 221.1L205.5 220.9L207.5 220.5L210 220.3L212 220L216.5 219.9L220 219.5M134 106.5L138.5 106.5L140 106.7L142 106.9L146.5 107.6L149 107.8L151 108.1L154.5 108.3L157 108.7L160 108.9L162 109.2L164 109.5L168.8 110.5L170.6 111L173.1 112L177.1 114L179.7 116L181.5 117.6L183 119.2L184 120.4L185 121.9L186 123.7L187 126L187.5 128.5L187.6 131L187.5 132.3L187 134.5L186 137.9L184 143L182.5 146L180 150L177.9 152.5L176 154.5L173.5 156.5L171.4 158L168.1 160L164 162L155.2 165.5L150.8 167L147 168L144 168.4L142 168.5L137 168.4L134.8 168L133 167.5L130.4 166.5L128.2 165L126.5 163.3L125.5 162L124.5 160L123.5 157.1L122.6 153L122.4 151L122 148.5L121.9 143L121.4 140L121.3 132.5L121.4 128L121.7 126.5L122 123.6L122.5 121.2L123.5 117.5L125 113.8L126.5 111L128 109.1L129.5 108L131.5 107.1L134 106.5M209.5 223L212 222.6L219.5 222.6L221.5 222.9L223.5 223.1L225.5 223.4L227.5 223.5L229.5 223.9L232 224.1L233.5 224.4L236.5 224.6L238.5 224.9L240.5 225.1L245 226.2L247.5 227L250.5 228.3L252.4 229.5L254.5 231L256.5 233.1L257.4 234.5L257.9 235.5L258.5 237.5L258.5 238.8L258 240.4L257 242L255.6 243.5L253.6 245L251.8 246L249 247L246 247.5L245 247.6L242 247.6L233 246.7L227.5 246L223.5 245.9L220.5 245.5L211 245.4L208 245L203 244.9L201 244.6L197.5 244.4L196 244.1L193 244L191 243.6L188.5 243.5L186.5 243.1L183.5 243L181.5 242.6L178.5 242.4L176.5 242.1L173.5 241.9L171 241.5L166 241.1L163.5 240.6L156.7 240L155.5 239.6L153 239.3L148.9 239L148 238.6L146 238.3L143.4 238L142.5 237.6L141.2 237.5L140.4 237L141.2 236.5L142 236.3L142.4 236L143.5 235.8L145.2 235L146.9 234.5L148 234.3L148.7 234L150 233.8L150.7 233.5L152.5 233.2L154.5 232.7L157 232.4L158 232L160 231.8L162.5 231.3L166 230.9L167.5 230.4L171 230.1L173 229.7L175.5 229.4L177.5 229.1L179.5 228.9L187.5 227.3L201.5 224.1L207 223.2L209.5 223M206.5 226.5L209 226.1L214.5 226L216.5 226.1L218.5 226.4L223 226.6L225 226.9L227.5 227.1L229.5 227.4L231.5 227.6L234.5 228.1L238.5 229.1L242.5 230.6L243.9 231.5L246 233L247.4 234.5L248 235.5L248.5 237L248.5 238L248.4 238.5L247.7 240L246.3 241.5L244.5 242.5L242 243.3L239 243.8L237.5 243.9L224.5 243.8L222 243.5L218 243.4L215.5 243L210.5 243L207.5 242.6L201 242.4L199 242.1L194.5 241.9L192.5 241.5L189.5 241.3L188 241L185.5 240.7L179.8 239.5L176.8 238.5L173.4 237L172.2 236L171.9 235.5L172.2 235L172.9 234.5L173.8 234L176.1 233L185.5 230.2L194 228.2L199.5 227.2L203 226.6L206.5 226.5M207 230L209.5 229.7L219 229.8L221 230.1L224 230.3L227.5 230.9L231.4 232L235.1 233.5L238.3 235.5L238.7 236L238.8 236.5L238.7 237L238.5 237.5L238 238L236.6 239L235.5 239.5L233 240.2L230.7 240.5L227.5 240.6L225 240.4L206 240.2L203.5 239.9L200 239.6L198.5 239.3L196.4 239L190.5 237.2L189.6 237L186.7 235.5L186.4 235L187.5 234L189.6 233L190.8 232.5L194 231.7L196 231.3L197 231L201.5 230.3L207 230"/>
<path stroke-width="0.8" d="M121.5 202.4l0.5 2.2M112.9 208.1l2.2 0.8M114.2 218l1.9 -1.3M123.4 221.6l-0.3 -2.3M133.9 218.7l-1 -2.1M144.9 214.6l-0.5 -2.2M157.1 212l-0.6 -2.2M165.8 204.9l-1.5 1.7M152.2 203.4l0 2.3M139.2 202.7l-0.2 2.3M127.2 201.7l0.1 2.3M116.6 198.2l0.6 2.2M108.2 204.1l1.9 1.3M105.6 213.5l2.3 -0.1M110.1 221.9l1.6 -1.7M119.1 225.8l0.3 -2.3M129.5 223.6l-0.8 -2.2M140.2 219.6l-0.7 -2.2M152.2 217.6l-0.4 -2.3M165.1 215.8l-0.6 -2.2M178 210.6l-0.9 -2.1M179.8 201.3l-0.8 2.1M165 199.5l-0.1 2.3M151.1 199l-0.1 2.3M138.2 197.7l-0.4 2.3M126.2 197.1l0 2.3M107.8 244.6l-2 1M102 236.6l-2.1 1M105.6 229.8l-0.4 -2.3M115.3 229.1l-0.1 -2.3M125.5 227.2l-0.6 -2.2M135.9 223.3l-0.8 -2.1M147.4 220.5l-0.3 -2.3M160 219.4l-0.1 -2.3M173.5 217.6l-0.4 -2.3M187.4 213.7l-0.7 -2.2M202 208.5l-0.7 -2.2M204.9 199.4l-0.7 2.2M188.6 195.7l-0.3 2.3M173 195.4l0 2.3M158.6 195l0 2.3M145.1 194.9l-0.2 2.3M132.6 194.6l0 2.3M121 194.1l0 2.3M110.2 194.6l0.4 2.3M102 200.1l2 1.2M98.4 209l2.2 0.7M91.6 211.5l-0.4 2.3M84.3 216.8l2.1 1M81.9 226.1l2.3 0.2M81.4 235.8l2.3 0M81.5 245.5l2.3 0M267.9 44.3l2.1 -1M277 63.5l2.1 -0.9M285.1 83.6l2.2 -0.7M290.7 104.5l2.3 -0.4M292.4 126.1l2.3 0M292.4 147.7l2.3 0M290.2 169.1l2.2 0.7M275.6 184.1l0.9 2.1M254.5 188.4l0.4 2.3M234.3 189.5l0.4 2.3M215.5 189.1l0 2.3M198 188.5l0 2.3M181.8 188.5l0 2.3M166.7 189l0.2 2.3M152.7 190.4l0.4 2.3M139.7 191.8l0.1 2.3M127.6 192.1l-0.3 2.3M116.5 190.6l-0.6 2.2M106.9 186.3l-1.4 1.9M100.6 178.9l-2 1.1M97.5 169.7l-2.2 0.5M96.8 160.1l-2.3 0M96.8 150.4l-2.3 0M97.2 140.7l-2.3 -0.1M97.5 131.1l-2.3 -0.4M97.7 121.4l-2.3 0M97.7 111.7l-2.3 -0.1M98.2 102l-2.3 0M98.2 92.3l-2.3 0M98.7 82.6l-2.3 0M99.5 73l-2.3 -0.5M100.9 63.4l-2.3 -0.5M103.2 54l-2.2 -0.6M106.6 44.9l-2.1 -1M111.6 36.5l-1.9 -1.3M130.8 247.5l-0.6 2.2M120.2 243l-1.3 1.9M116.8 234l-1.9 -1.3M125.8 228.7l-0.7 -2.2M136.4 225.3l-0.6 -2.2M148.1 223l-0.3 -2.3M160.7 221.1l-0.2 -2.3M174.2 219.2l-0.3 -2.3M188.5 216.4l-0.5 -2.2M203.7 213l-0.5 -2.3M220 209.6l-0.2 -2.3M237.7 208.1l0 -2.3M256.6 210.1l0.4 -2.3M275.7 217l1.1 -2M291 231.5l2.2 -0.6M141.8 247.5l-0.5 2.2M130.1 243.9l-0.9 2.1M120.6 237.7l-2 1.1M127.6 230.8l-1 -2.1M138.3 227.1l-0.5 -2.2M150.1 224.8l-0.5 -2.3M162.8 223.1l-0.2 -2.3M176.4 221.1l-0.4 -2.3M190.9 218.4l-0.5 -2.3M206.4 215.3l-0.4 -2.3M223 213l-0.1 -2.3M241 213l0.1 -2.3M259.9 216.8l0.7 -2.2M277.7 226.9l1.6 -1.7M278.1 246.5l2 1.2M165 53.4l0 -2.3M178.8 55.1l0.5 -2.2M192.9 59.9l1 -2M206.3 68.3l1.4 -1.8M220.7 77l0.9 -2.1M236.8 84.7l1 -2.1M252.6 95.3l1.5 -1.7M265 111l2.1 -1M270.4 131.1l2.3 -0.1M267.3 152.1l2.1 0.9M253 167.1l1.1 2M234.3 174.5l0.6 2.2M216 178.7l0.5 2.2M198.6 181l0.1 2.3M182.4 182.4l0.1 2.3M167.3 183.5l0.2 2.3M153.4 185.5l0.3 2.3M140.4 187.4l0.1 2.3M128.2 187.1l-0.4 2.3M117.6 183.6l-1.1 2M109.5 176.8l-1.8 1.5M105.4 167.8l-2.2 0.5M104.4 158.1l-2.3 0M104.9 148.5l-2.3 -0.1M104.9 138.8l-2.3 0M104.9 129.1l-2.3 0M104.5 119.4l-2.3 0M104.5 109.7l-2.3 -0.1M105.7 100.1l-2.2 -0.5M108 90.6l-2.2 -0.6M110.8 81.1l-2.2 -0.6M113.5 71.4l-2.2 -0.6M118 62.2l-1.8 -1.4M126.6 56.1l-0.8 -2.1M137.5 54l-0.1 -2.3M149.5 53.9l0 -2.3M134 75.5l0 -2.3M145.6 76.4l0.2 -2.3M158.1 77.4l0.1 -2.3M171.5 79.1l0.4 -2.3M185.3 82.9l0.8 -2.1M199.5 88.9l1 -2.1M214.5 95.4l0.8 -2.1M230.4 102.5l1.1 -2M244.4 114.3l1.8 -1.4M250.7 132.4l2.3 0M242.2 149.9l1.7 1.5M226.8 161.6l1.2 2M210 168.8l0.6 2.2M193.5 173.2l0.5 2.2M177.9 176.2l0.5 2.3M163.3 178.8l0.5 2.3M149.6 181l0.2 2.3M136.9 182l0 2.3M125.1 180.6l-0.7 2.2M116.1 174.4l-1.8 1.4M111.5 165.1l-2.2 0.5M110.2 155l-2.3 -0.1M110.6 145l-2.3 -0.3M110.9 134.9l-2.3 0.1M110.5 124.8l-2.3 0M110 114.8l-2.3 0M110.8 104.8l-2.3 -0.4M112.9 94.9l-2.2 -0.7M117.3 85.7l-1.9 -1.3M124.6 78.2l-1.3 -1.9M219.5 216.1l0 -2.3M237.2 217.1l0.5 -2.3M255.9 220.1l0.6 -2.2M272.2 231.5l2 -1.2M175.6 248l-0.1 2.3M161 246.5l-0.1 2.3M147.5 245.2l-0.4 2.3M135 242.9l-0.7 2.2M127 235.5l-2.2 -0.8M136.4 230l-0.6 -2.2M148.1 227.5l-0.2 -2.3M160.7 225.9l-0.3 -2.3M174.2 224.2l-0.5 -2.3M188.5 221.5l-0.4 -2.3M203.7 218.1l-0.4 -2.3M134.5 91.1l0 -2.3M146.2 91.9l0.4 -2.3M158.7 92.9l0.3 -2.3M172 95.1l0.4 -2.3M185.8 99.3l0.8 -2.2M200 105.4l1 -2.1M214 113.8l1.4 -1.8M221.6 128.8l2.3 0M213.6 144.2l1.5 1.7M200.2 155.2l1.3 1.9M186.6 164.3l1.1 2M172.5 170.6l0.7 2.2M158.4 173.9l0.4 2.3M145.1 175.9l0.2 2.3M132.7 175.8l-0.4 2.3M122.6 170.3l-1.7 1.6M117.4 160.8l-2.2 0.6M116.2 150.3l-2.3 0.2M116.5 139.8l-2.3 0M116 129.4l-2.3 0M116 118.9l-2.3 0M117.1 108.5l-2.3 -0.3M120 98.4l-2 -1.1M128.1 91.9l-0.6 -2.2M224 219.5l0 -2.3M242 221.3l0.5 -2.2M260.1 227.5l1.4 -1.8M263.7 245.3l1.6 1.6M224.5 247.6l0 2.3M206.4 247.3l-0.3 2.3M189.6 246l-0.1 2.3M174 244.9l-0.1 2.3M159.5 243.9l-0.1 2.3M146.1 242.5l-0.2 2.3M133.9 239.7l-1.1 2M136.7 232.4l-0.8 -2.2M148.4 230l-0.2 -2.3M161 228.8l-0.4 -2.3M174.5 226.7l-0.4 -2.3M188.9 223.9l-0.5 -2.2M204.2 221l-0.2 -2.3M138 106.4l0.2 -2.3M149.9 107.9l0.4 -2.3M162.7 109.3l0.2 -2.3M175.8 113.3l1.1 -2M185.9 123.6l2.1 -1M185.8 138.4l2.1 0.8M178.5 151.9l1.8 1.4M166.6 160.7l1 2.1M153.6 166l0.7 2.2M140.8 168.5l0 2.3M129.1 165.7l-1.2 1.9M123.3 156.2l-2.2 0.6M121.9 145.4l-2.3 0.1M121.3 134.5l-2.3 0M122 123.7l-2.3 -0.5M125.2 113.4l-2.1 -1M133.4 106.6l-0.5 -2.3M213.5 222.6l0 -2.3M230.7 224l0.1 -2.3M248.9 227.5l0.9 -2.1M256.7 242.4l1.7 1.5M237.7 247.1l-0.2 2.3M218.8 245.5l0 2.3M201.1 244.6l-0.2 2.3M184.7 243l-0.1 2.3M169.5 241.3l-0.2 2.3M155.4 239.6l-0.4 2.3M142.4 237.6l-0.2 2.3M149.8 233.9l-0.3 -2.3M162.4 231.3l-0.4 -2.3M175.9 229.4l-0.4 -2.3M190.4 226.6l-0.6 -2.2M205.8 223.4l-0.4 -2.3M210.5 226l0 -2.3M227.5 227.1l0.2 -2.3M244.9 232.2l1.4 -1.9M238.5 243.9l0.2 2.3M219.5 243.4l0 2.3M201.7 242.4l-0.1 2.3M185.3 240.6l-0.5 2.3M172.3 234.9l-1.4 -1.8M185.8 230.1l-0.5 -2.2M200.9 227l-0.3 -2.3M211 229.7l0 -2.3M228.1 231l0.6 -2.2M234.3 239.8l0.5 2.2M215.5 240.3l0 2.3M198.1 239.2l-0.3 2.3M189.3 233.1l-0.7 -2.2M204.6 230.1l0 -2.3"/>
</g>
<g stroke-width="1.6" fill="none">
<line x1="52.1" x2="332.2" y1="123.3" y2="123.3" stroke="#ff0000"/>
<line x1="52.1" x2="332.2" y1="205.8" y2="205.8" stroke="#1010f0"/>
<line x1="52.1" x2="332.2" y1="243.3" y2="243.3" stroke="#8000e0"/>
</g>
<g stroke="#000" fill="none" stroke-width="1.6" stroke-linecap="butt">
<rect x="52.1" y="28.9" width="280.09999999999997" height="220.29999999999998"/>
<path d="M52.1 249.2V463.4 H332.2 V249.2"/>
<path d="M52.1 320.9H332.2 M52.1 392.0H332.2"/>
</g>
<path stroke="#000" stroke-width="1.2" fill="none" d="M52.1 31.3h6.5 M332.2 31.3h-6.5M52.1 93h6.5 M332.2 93h-6.5M52.1 154.6h6.5 M332.2 154.6h-6.5M52.1 216.3h6.5 M332.2 216.3h-6.5M98.5 28.9v5.0 M100.5 249.2v-5.0M149.6 28.9v5.0 M149.6 249.2v-5.0M201 28.9v5.0 M201 249.2v-5.0M252.4 28.9v5.0 M252.4 249.2v-5.0M303.8 28.9v5.0 M303.8 249.2v-5.0"/>
<path stroke="#000" stroke-width="1.3" fill="none" d="M76 318.3V323.5M100.5 317.3V324.5M125 318.3V323.5M149.6 317.3V324.5M201 317.3V324.5M252.4 317.3V324.5M303.8 317.3V324.5M165.1 318.7V323.1M174.1 318.7V323.1M180.5 318.7V323.1M185.5 318.7V323.1M189.6 318.7V323.1M193 318.7V323.1M196 318.7V323.1M198.6 318.7V323.1M216.5 318.7V323.1M225.5 318.7V323.1M231.9 318.7V323.1M236.9 318.7V323.1M241 318.7V323.1M244.4 318.7V323.1M247.4 318.7V323.1M250 318.7V323.1M267.9 318.7V323.1M276.9 318.7V323.1M283.3 318.7V323.1M288.3 318.7V323.1M292.4 318.7V323.1M295.8 318.7V323.1M298.8 318.7V323.1M301.4 318.7V323.1M319.3 318.7V323.1M328.3 318.7V323.1M76 389.4V394.6M100.5 388.4V395.6M125 389.4V394.6M149.6 388.4V395.6M201 388.4V395.6M252.4 388.4V395.6M303.8 388.4V395.6M165.1 389.8V394.2M174.1 389.8V394.2M180.5 389.8V394.2M185.5 389.8V394.2M189.6 389.8V394.2M193 389.8V394.2M196 389.8V394.2M198.6 389.8V394.2M216.5 389.8V394.2M225.5 389.8V394.2M231.9 389.8V394.2M236.9 389.8V394.2M241 389.8V394.2M244.4 389.8V394.2M247.4 389.8V394.2M250 389.8V394.2M267.9 389.8V394.2M276.9 389.8V394.2M283.3 389.8V394.2M288.3 389.8V394.2M292.4 389.8V394.2M295.8 389.8V394.2M298.8 389.8V394.2M301.4 389.8V394.2M319.3 389.8V394.2M328.3 389.8V394.2M76 461.1V463.4M100.5 460.2V463.4M125 461.1V463.4M149.6 460.2V463.4M201 460.2V463.4M252.4 460.2V463.4M303.8 460.2V463.4M165.1 461.5V463.4M174.1 461.5V463.4M180.5 461.5V463.4M185.5 461.5V463.4M189.6 461.5V463.4M193 461.5V463.4M196 461.5V463.4M198.6 461.5V463.4M216.5 461.5V463.4M225.5 461.5V463.4M231.9 461.5V463.4M236.9 461.5V463.4M241 461.5V463.4M244.4 461.5V463.4M247.4 461.5V463.4M250 461.5V463.4M267.9 461.5V463.4M276.9 461.5V463.4M283.3 461.5V463.4M288.3 461.5V463.4M292.4 461.5V463.4M295.8 461.5V463.4M298.8 461.5V463.4M301.4 461.5V463.4M319.3 461.5V463.4M328.3 461.5V463.4"/>
<path stroke="#000" stroke-width="1.3" fill="none" d="M52.1 313.3h4.5M332.2 313.3h-4.5M52.1 282.1h4.5M332.2 282.1h-4.5M52.1 297.7h2.8M332.2 297.7h-2.8M52.1 266.5h2.8M332.2 266.5h-2.8M52.1 341.4h4.5M332.2 341.4h-4.5M52.1 361.8h4.5M332.2 361.8h-4.5M52.1 382.2h4.5M332.2 382.2h-4.5M52.1 331.2h2.8M332.2 331.2h-2.8M52.1 351.6h2.8M332.2 351.6h-2.8M52.1 372h2.8M332.2 372h-2.8M52.1 454.5h4.5M332.2 454.5h-4.5M52.1 408.8h4.5M332.2 408.8h-4.5M52.1 431.6h2.8M332.2 431.6h-2.8"/>
<path stroke="#000" stroke-width="1" fill="none" d="M52.1 313.5H332.2M52.1 341.5H332.2M52.1 454.5H332.2"/>
<g fill="#000">
<circle cx="54.2" cy="312.3" r="2"/>
<circle cx="57.5" cy="312.7" r="2"/>
<circle cx="60.8" cy="312.5" r="2"/>
<circle cx="64.1" cy="312" r="2"/>
<circle cx="67.4" cy="311.9" r="2"/>
<circle cx="70.7" cy="312.4" r="2"/>
<circle cx="74" cy="312.7" r="2"/>
<circle cx="77.3" cy="312.4" r="2"/>
<circle cx="80.6" cy="312" r="2"/>
<circle cx="84" cy="309.5" r="2"/>
<circle cx="87.8" cy="307" r="2"/>
<circle cx="91.4" cy="304.6" r="2"/>
<circle cx="94.6" cy="303" r="2"/>
<circle cx="97.9" cy="299.8" r="2"/>
<circle cx="101.3" cy="291.2" r="2"/>
<circle cx="104.3" cy="276.8" r="2"/>
<circle cx="107" cy="265" r="2"/>
<circle cx="109.8" cy="258.8" r="2"/>
<circle cx="112.6" cy="255" r="2"/>
<circle cx="115.6" cy="253.6" r="2"/>
<circle cx="118.5" cy="254" r="2"/>
<circle cx="121.5" cy="255.2" r="2"/>
<circle cx="124.5" cy="256.4" r="2"/>
<circle cx="126.6" cy="255.4" r="2"/>
<circle cx="128.7" cy="256.2" r="2"/>
<circle cx="130.8" cy="256.1" r="2"/>
<circle cx="132.9" cy="256.2" r="2"/>
<circle cx="135" cy="256.4" r="2"/>
<circle cx="137.1" cy="256" r="2"/>
<circle cx="139.2" cy="256.6" r="2"/>
<circle cx="141.3" cy="256.5" r="2"/>
<circle cx="143.4" cy="257.6" r="2"/>
<circle cx="145.5" cy="257" r="2"/>
<circle cx="147.6" cy="256.9" r="2"/>
<circle cx="149.7" cy="257" r="2"/>
<circle cx="151.8" cy="257.3" r="2"/>
<circle cx="153.9" cy="257.7" r="2"/>
<circle cx="156" cy="258.4" r="2"/>
<circle cx="158.1" cy="259.1" r="2"/>
<circle cx="160.2" cy="259.3" r="2"/>
<circle cx="162.3" cy="260.2" r="2"/>
<circle cx="164.4" cy="260.5" r="2"/>
<circle cx="166.5" cy="261.2" r="2"/>
<circle cx="168.6" cy="262.1" r="2"/>
<circle cx="170.7" cy="262.5" r="2"/>
<circle cx="172.8" cy="262.8" r="2"/>
<circle cx="174.9" cy="263.5" r="2"/>
<circle cx="177" cy="264.2" r="2"/>
<circle cx="179.1" cy="265.1" r="2"/>
<circle cx="181.2" cy="265.1" r="2"/>
<circle cx="183.3" cy="265.7" r="2"/>
<circle cx="185.4" cy="266.5" r="2"/>
<circle cx="187.5" cy="266.6" r="2"/>
<circle cx="189.6" cy="267.3" r="2"/>
<circle cx="191.7" cy="268.1" r="2"/>
<circle cx="193.8" cy="268.6" r="2"/>
<circle cx="195.9" cy="269" r="2"/>
<circle cx="198" cy="269.7" r="2"/>
<circle cx="200.1" cy="269.4" r="2"/>
<circle cx="202.2" cy="270.9" r="2"/>
<circle cx="204.3" cy="271" r="2"/>
<circle cx="206.4" cy="271.4" r="2"/>
<circle cx="208.5" cy="272.4" r="2"/>
<circle cx="210.6" cy="272.9" r="2"/>
<circle cx="212.7" cy="273.2" r="2"/>
<circle cx="214.8" cy="273.5" r="2"/>
<circle cx="216.9" cy="274.4" r="2"/>
<circle cx="219" cy="275.1" r="2"/>
<circle cx="221.1" cy="276.1" r="2"/>
<circle cx="223.2" cy="276.7" r="2"/>
<circle cx="225.3" cy="277.2" r="2"/>
<circle cx="227.4" cy="278.2" r="2"/>
<circle cx="229.5" cy="278.9" r="2"/>
<circle cx="231.6" cy="279.8" r="2"/>
<circle cx="233.7" cy="281.2" r="2"/>
<circle cx="235.8" cy="282.2" r="2"/>
<circle cx="237.9" cy="283.1" r="2"/>
<circle cx="240" cy="284" r="2"/>
<circle cx="242.1" cy="285.4" r="2"/>
<circle cx="244.2" cy="285.9" r="2"/>
<circle cx="246.3" cy="287.9" r="2"/>
<circle cx="248.4" cy="289" r="2"/>
<circle cx="250.5" cy="289.6" r="2"/>
<circle cx="252.6" cy="291.3" r="2"/>
<circle cx="254.7" cy="292.3" r="2"/>
<circle cx="256.8" cy="294" r="2"/>
<circle cx="258.9" cy="294.6" r="2"/>
<circle cx="261" cy="296.2" r="2"/>
<circle cx="263.1" cy="297.9" r="2"/>
<circle cx="265.2" cy="299" r="2"/>
<circle cx="267.3" cy="299.1" r="2"/>
<circle cx="269.4" cy="300.4" r="2"/>
<circle cx="271.5" cy="301.5" r="2"/>
<circle cx="273.6" cy="302.2" r="2"/>
<circle cx="275.7" cy="303.6" r="2"/>
<circle cx="277.8" cy="303.5" r="2"/>
<circle cx="279.9" cy="304.5" r="2"/>
<circle cx="282" cy="304.7" r="2"/>
<circle cx="284.1" cy="305.9" r="2"/>
<circle cx="286.2" cy="306.1" r="2"/>
<circle cx="288.3" cy="306.5" r="2"/>
<circle cx="290.4" cy="306.4" r="2"/>
<circle cx="292.5" cy="307.5" r="2"/>
<circle cx="294.6" cy="307.5" r="2"/>
<circle cx="296.7" cy="307.8" r="2"/>
<circle cx="298.8" cy="308.2" r="2"/>
<circle cx="300.9" cy="308.2" r="2"/>
<circle cx="303" cy="308.1" r="2"/>
<circle cx="305.1" cy="308.1" r="2"/>
<circle cx="307.2" cy="308.3" r="2"/>
<circle cx="309.3" cy="309" r="2"/>
<circle cx="311.4" cy="308.4" r="2"/>
<circle cx="313.5" cy="308.8" r="2"/>
<circle cx="315.6" cy="308.9" r="2"/>
<circle cx="317.7" cy="309.2" r="2"/>
<circle cx="319.8" cy="309.4" r="2"/>
<circle cx="321.9" cy="309" r="2"/>
<circle cx="324" cy="309" r="2"/>
<circle cx="326.1" cy="309.6" r="2"/>
<circle cx="328.2" cy="310" r="2"/>
<circle cx="330.3" cy="310" r="2"/>
<circle cx="54.2" cy="340.6" r="2"/>
<circle cx="57.5" cy="341" r="2"/>
<circle cx="60.8" cy="340.8" r="2"/>
<circle cx="64.1" cy="340.3" r="2"/>
<circle cx="67.4" cy="340.2" r="2"/>
<circle cx="70.7" cy="340.7" r="2"/>
<circle cx="74" cy="341" r="2"/>
<circle cx="77.3" cy="340.7" r="2"/>
<circle cx="80.6" cy="340.3" r="2"/>
<circle cx="83.3" cy="341.3" r="2"/>
<circle cx="86.6" cy="342.5" r="2"/>
<circle cx="89.8" cy="343.7" r="2"/>
<circle cx="92" cy="343.3" r="2"/>
<circle cx="94.6" cy="335.2" r="2"/>
<circle cx="97.9" cy="336.4" r="2"/>
<circle cx="101.5" cy="357.4" r="2"/>
<circle cx="104" cy="385.3" r="2"/>
<circle cx="106.7" cy="384" r="2"/>
<circle cx="110.6" cy="379.2" r="2"/>
<circle cx="113.6" cy="376.5" r="2"/>
<circle cx="116.7" cy="374.7" r="2"/>
<circle cx="119.7" cy="372.8" r="2"/>
<circle cx="122.7" cy="373.5" r="2"/>
<circle cx="124.5" cy="373.6" r="2"/>
<circle cx="126.6" cy="373.4" r="2"/>
<circle cx="128.7" cy="373.4" r="2"/>
<circle cx="130.8" cy="373.1" r="2"/>
<circle cx="132.9" cy="373.2" r="2"/>
<circle cx="135" cy="372.6" r="2"/>
<circle cx="137.1" cy="372.7" r="2"/>
<circle cx="139.2" cy="372.5" r="2"/>
<circle cx="141.3" cy="372.5" r="2"/>
<circle cx="143.4" cy="372.2" r="2"/>
<circle cx="145.5" cy="372.6" r="2"/>
<circle cx="147.6" cy="372.2" r="2"/>
<circle cx="149.7" cy="372" r="2"/>
<circle cx="151.8" cy="370.5" r="2"/>
<circle cx="153.9" cy="370.2" r="2"/>
<circle cx="156" cy="369.4" r="2"/>
<circle cx="158.1" cy="369" r="2"/>
<circle cx="160.2" cy="367.6" r="2"/>
<circle cx="162.3" cy="367.4" r="2"/>
<circle cx="164.4" cy="366.2" r="2"/>
<circle cx="166.5" cy="364.5" r="2"/>
<circle cx="168.6" cy="363.4" r="2"/>
<circle cx="170.7" cy="362.4" r="2"/>
<circle cx="172.8" cy="361.4" r="2"/>
<circle cx="174.9" cy="360.4" r="2"/>
<circle cx="177" cy="359.6" r="2"/>
<circle cx="179.1" cy="357.9" r="2"/>
<circle cx="181.2" cy="357" r="2"/>
<circle cx="183.3" cy="355.6" r="2"/>
<circle cx="185.4" cy="354.9" r="2"/>
<circle cx="187.5" cy="353.4" r="2"/>
<circle cx="189.6" cy="352.4" r="2"/>
<circle cx="191.7" cy="350.7" r="2"/>
<circle cx="193.8" cy="349.9" r="2"/>
<circle cx="195.9" cy="348.6" r="2"/>
<circle cx="198" cy="348.2" r="2"/>
<circle cx="200.1" cy="346.9" r="2"/>
<circle cx="202.2" cy="345.6" r="2"/>
<circle cx="204.3" cy="344.7" r="2"/>
<circle cx="206.4" cy="344.1" r="2"/>
<circle cx="208.5" cy="343" r="2"/>
<circle cx="210.6" cy="342.2" r="2"/>
<circle cx="212.7" cy="341.7" r="2"/>
<circle cx="214.8" cy="341.4" r="2"/>
<circle cx="216.9" cy="340.4" r="2"/>
<circle cx="219" cy="340" r="2"/>
<circle cx="221.1" cy="339.6" r="2"/>
<circle cx="223.2" cy="339.2" r="2"/>
<circle cx="225.3" cy="339.4" r="2"/>
<circle cx="227.4" cy="339.2" r="2"/>
<circle cx="229.5" cy="338.7" r="2"/>
<circle cx="231.6" cy="338.6" r="2"/>
<circle cx="233.7" cy="338.4" r="2"/>
<circle cx="235.8" cy="338.3" r="2"/>
<circle cx="237.9" cy="337.8" r="2"/>
<circle cx="240" cy="337.9" r="2"/>
<circle cx="242.1" cy="337.9" r="2"/>
<circle cx="244.2" cy="337.6" r="2"/>
<circle cx="246.3" cy="337.5" r="2"/>
<circle cx="248.4" cy="337.3" r="2"/>
<circle cx="250.5" cy="337.3" r="2"/>
<circle cx="252.6" cy="337.5" r="2"/>
<circle cx="254.7" cy="337" r="2"/>
<circle cx="256.8" cy="337" r="2"/>
<circle cx="258.9" cy="337.1" r="2"/>
<circle cx="261" cy="336.9" r="2"/>
<circle cx="263.1" cy="337" r="2"/>
<circle cx="265.2" cy="335.9" r="2"/>
<circle cx="267.3" cy="336.5" r="2"/>
<circle cx="269.4" cy="336" r="2"/>
<circle cx="271.5" cy="336" r="2"/>
<circle cx="273.6" cy="336" r="2"/>
<circle cx="275.7" cy="335.9" r="2"/>
<circle cx="277.8" cy="335.8" r="2"/>
<circle cx="279.9" cy="335.6" r="2"/>
<circle cx="282" cy="335.9" r="2"/>
<circle cx="284.1" cy="335.4" r="2"/>
<circle cx="286.2" cy="335.4" r="2"/>
<circle cx="288.3" cy="335.5" r="2"/>
<circle cx="290.4" cy="335.2" r="2"/>
<circle cx="292.5" cy="335.9" r="2"/>
<circle cx="294.6" cy="335.7" r="2"/>
<circle cx="296.7" cy="336" r="2"/>
<circle cx="298.8" cy="335.6" r="2"/>
<circle cx="300.9" cy="335.2" r="2"/>
<circle cx="303" cy="334.7" r="2"/>
<circle cx="305.1" cy="334.3" r="2"/>
<circle cx="307.2" cy="333.5" r="2"/>
<circle cx="309.3" cy="333.5" r="2"/>
<circle cx="311.4" cy="333.2" r="2"/>
<circle cx="313.5" cy="333.4" r="2"/>
<circle cx="315.6" cy="332.6" r="2"/>
<circle cx="317.7" cy="332.8" r="2"/>
<circle cx="319.8" cy="332.3" r="2"/>
<circle cx="321.9" cy="332.1" r="2"/>
<circle cx="324" cy="332.1" r="2"/>
<circle cx="326.1" cy="331.9" r="2"/>
<circle cx="328.2" cy="332.1" r="2"/>
<circle cx="330.3" cy="332.3" r="2"/>
<circle cx="54.2" cy="453.6" r="2"/>
<circle cx="57.5" cy="454" r="2"/>
<circle cx="60.8" cy="453.8" r="2"/>
<circle cx="64.1" cy="453.3" r="2"/>
<circle cx="67.4" cy="453.2" r="2"/>
<circle cx="70.7" cy="453.7" r="2"/>
<circle cx="74" cy="454" r="2"/>
<circle cx="77.3" cy="453.7" r="2"/>
<circle cx="80.6" cy="453.3" r="2"/>
<circle cx="81.7" cy="455.2" r="2"/>
<circle cx="85.4" cy="457.5" r="2"/>
<circle cx="97.9" cy="449.6" r="2"/>
<circle cx="101" cy="435.5" r="2"/>
<circle cx="104.3" cy="435.5" r="2"/>
<circle cx="107.6" cy="440.8" r="2"/>
<circle cx="110.8" cy="436.3" r="2"/>
<circle cx="113.6" cy="427.4" r="2"/>
<circle cx="116.5" cy="422.6" r="2"/>
<circle cx="119.7" cy="420" r="2"/>
<circle cx="124.5" cy="418.3" r="2"/>
<circle cx="126.6" cy="418.2" r="2"/>
<circle cx="128.7" cy="418.2" r="2"/>
<circle cx="130.8" cy="417.6" r="2"/>
<circle cx="132.9" cy="417.3" r="2"/>
<circle cx="135" cy="416.9" r="2"/>
<circle cx="137.1" cy="416.3" r="2"/>
<circle cx="139.2" cy="416.7" r="2"/>
<circle cx="141.3" cy="415.8" r="2"/>
<circle cx="143.4" cy="416.2" r="2"/>
<circle cx="145.5" cy="415.8" r="2"/>
<circle cx="147.6" cy="415.8" r="2"/>
<circle cx="149.7" cy="415.3" r="2"/>
<circle cx="151.8" cy="414.6" r="2"/>
<circle cx="153.9" cy="414.2" r="2"/>
<circle cx="156" cy="413.4" r="2"/>
<circle cx="158.1" cy="412.9" r="2"/>
<circle cx="160.2" cy="412.3" r="2"/>
<circle cx="162.3" cy="411.8" r="2"/>
<circle cx="164.4" cy="411.4" r="2"/>
<circle cx="166.5" cy="410.8" r="2"/>
<circle cx="168.6" cy="410.6" r="2"/>
<circle cx="170.7" cy="409.7" r="2"/>
<circle cx="172.8" cy="409.8" r="2"/>
<circle cx="174.9" cy="409.1" r="2"/>
<circle cx="177" cy="409.3" r="2"/>
<circle cx="179.1" cy="409" r="2"/>
<circle cx="181.2" cy="407.9" r="2"/>
<circle cx="183.3" cy="408.2" r="2"/>
<circle cx="185.4" cy="407.8" r="2"/>
<circle cx="187.5" cy="407.2" r="2"/>
<circle cx="189.6" cy="407.3" r="2"/>
<circle cx="191.7" cy="406.9" r="2"/>
<circle cx="193.8" cy="406.6" r="2"/>
<circle cx="195.9" cy="406.9" r="2"/>
<circle cx="198" cy="407" r="2"/>
<circle cx="200.1" cy="407" r="2"/>
<circle cx="202.2" cy="407.1" r="2"/>
<circle cx="204.3" cy="407.9" r="2"/>
<circle cx="206.4" cy="408.3" r="2"/>
<circle cx="208.5" cy="408.1" r="2"/>
<circle cx="210.6" cy="408.7" r="2"/>
<circle cx="212.7" cy="409.3" r="2"/>
<circle cx="214.8" cy="409.6" r="2"/>
<circle cx="216.9" cy="410.8" r="2"/>
<circle cx="219" cy="411.1" r="2"/>
<circle cx="221.1" cy="411.4" r="2"/>
<circle cx="223.2" cy="412.1" r="2"/>
<circle cx="225.3" cy="413.1" r="2"/>
<circle cx="227.4" cy="414.7" r="2"/>
<circle cx="229.5" cy="415" r="2"/>
<circle cx="231.6" cy="416.1" r="2"/>
<circle cx="233.7" cy="417.3" r="2"/>
<circle cx="235.8" cy="418.8" r="2"/>
<circle cx="237.9" cy="421" r="2"/>
<circle cx="240" cy="421.9" r="2"/>
<circle cx="242.1" cy="423.8" r="2"/>
<circle cx="244.2" cy="425.6" r="2"/>
<circle cx="246.3" cy="427.6" r="2"/>
<circle cx="248.4" cy="429" r="2"/>
<circle cx="250.5" cy="431.6" r="2"/>
<circle cx="252.6" cy="433" r="2"/>
<circle cx="254.7" cy="434.7" r="2"/>
<circle cx="256.8" cy="436.2" r="2"/>
<circle cx="258.9" cy="438" r="2"/>
<circle cx="261" cy="440" r="2"/>
<circle cx="263.1" cy="441.5" r="2"/>
<circle cx="265.2" cy="442.9" r="2"/>
<circle cx="267.3" cy="444.4" r="2"/>
<circle cx="269.4" cy="445.7" r="2"/>
<circle cx="271.5" cy="446.4" r="2"/>
<circle cx="273.6" cy="447.4" r="2"/>
<circle cx="275.7" cy="448.2" r="2"/>
<circle cx="277.8" cy="448.9" r="2"/>
<circle cx="279.9" cy="449.6" r="2"/>
<circle cx="282" cy="450.2" r="2"/>
<circle cx="284.1" cy="450.3" r="2"/>
<circle cx="286.2" cy="450.6" r="2"/>
<circle cx="288.3" cy="451.2" r="2"/>
<circle cx="290.4" cy="451.6" r="2"/>
<circle cx="292.5" cy="451.2" r="2"/>
<circle cx="294.6" cy="451.3" r="2"/>
<circle cx="296.7" cy="451.4" r="2"/>
<circle cx="298.8" cy="451.9" r="2"/>
<circle cx="300.9" cy="451.2" r="2"/>
<circle cx="303" cy="451.8" r="2"/>
<circle cx="305.1" cy="452.1" r="2"/>
<circle cx="307.2" cy="451.7" r="2"/>
<circle cx="309.3" cy="452.3" r="2"/>
<circle cx="311.4" cy="452.2" r="2"/>
<circle cx="313.5" cy="452" r="2"/>
<circle cx="315.6" cy="452.3" r="2"/>
<circle cx="317.7" cy="451.9" r="2"/>
<circle cx="319.8" cy="452.2" r="2"/>
<circle cx="321.9" cy="452.9" r="2"/>
<circle cx="324" cy="452.3" r="2"/>
<circle cx="326.1" cy="453.1" r="2"/>
<circle cx="328.2" cy="452.7" r="2"/>
<circle cx="330.3" cy="453" r="2"/>
</g>
<path fill="none" stroke="#ff0000" stroke-width="1.5" stroke-linejoin="round" d="M121.5 255.4L123 255.6L124.5 255.8L126 255.9L127.5 256.1L129 256.1L130.5 256.2L132 256.3L133.5 256.4L135 256.4L136.5 256.5L138 256.6L139.5 256.6L141 256.7L142.5 256.8L144 256.8L145.5 256.9L147 257L148.5 257.1L150 257.3L151.5 257.5L153 257.8L154.5 258.1L156 258.5L157.5 258.8L159 259.2L160.5 259.5L162 259.9L163.5 260.3L165 260.7L166.5 261.2L168 261.6L169.5 262L171 262.4L172.5 262.9L174 263.3L175.5 263.7L177 264.1L178.5 264.5L180 264.9L181.5 265.3L183 265.6L184.5 266L186 266.4L187.5 266.8L189 267.2L190.5 267.6L192 268L193.5 268.4L195 268.8L196.5 269.2L198 269.6L199.5 270L201 270.4L202.5 270.8L204 271.2L205.5 271.5L207 271.9L208.5 272.3L210 272.6L211.5 273L213 273.4L214.5 273.7L216 274.2L217.5 274.6L219 275.1L220.5 275.6L222 276.1L223.5 276.6L225 277.1L226.5 277.7L228 278.3L229.5 279L231 279.7L232.5 280.4L234 281.2L235.5 282L237 282.7L238.5 283.5L240 284.3L241.5 285.1L243 285.9L244.5 286.7L246 287.5L247.5 288.4L249 289.2L250.5 290L252 290.9L253.5 291.8L255 292.7L256.5 293.7L258 294.6L259.5 295.5L261 296.4L262.5 297.3L264 298.1L265.5 298.8L267 299.5L268.5 300.1L270 300.8L271.5 301.4L273 302.1L274.5 302.7L276 303.2L277.5 303.7L279 304.1L280.5 304.5L282 304.9L283.5 305.4L285 305.8L286.5 306.1L288 306.4L289.5 306.7L291 306.9L292.5 307.1L294 307.3L295.5 307.5L297 307.7L298.5 307.8L300 308L301.5 308.1L303 308.2L304.5 308.3L306 308.4L307.5 308.5L309 308.6L310.5 308.7L312 308.8L313.5 308.9L315 309L316.5 309.1L318 309.1L319.5 309.2L321 309.3L322.5 309.4L324 309.4L325.5 309.5L327 309.6L328.5 309.7L330 309.7L331.5 309.8"/>
<path fill="none" stroke="#1010f0" stroke-width="1.5" stroke-linejoin="round" d="M124.2 376.8L125.7 376.6L127.2 376.3L128.7 375.9L130.2 375.5L131.7 375.1L133.2 374.8L134.7 374.5L136.2 374.2L137.7 373.9L139.2 373.7L140.7 373.5L142.2 373.3L143.7 373.1L145.2 372.9L146.7 372.7L148.2 372.4L149.7 372L151.2 371.6L152.7 371.1L154.2 370.5L155.7 369.9L157.2 369.3L158.7 368.7L160.2 368.1L161.7 367.3L163.2 366.6L164.7 365.8L166.2 365L167.7 364.2L169.2 363.4L170.7 362.6L172.2 361.7L173.7 360.9L175.2 360.1L176.7 359.3L178.2 358.5L179.7 357.6L181.2 356.8L182.7 355.9L184.2 355.1L185.7 354.3L187.2 353.4L188.7 352.6L190.2 351.8L191.7 351L193.2 350.2L194.7 349.5L196.2 348.7L197.7 348L199.2 347.2L200.7 346.5L202.2 345.8L203.7 345.1L205.2 344.5L206.7 343.9L208.2 343.3L209.7 342.7L211.2 342.2L212.7 341.6L214.2 341.1L215.7 340.8L217.2 340.4L218.7 340.2L220.2 340L221.7 339.8L223.2 339.6L224.7 339.3L226.2 339.1L227.7 338.9L229.2 338.8L230.7 338.6L232.2 338.5L233.7 338.4L235.2 338.3L236.7 338.2L238.2 338.1L239.7 338L241.2 337.9L242.7 337.9L244.2 337.8L245.7 337.7L247.2 337.6L248.7 337.5L250.2 337.4L251.7 337.3L253.2 337.2L254.7 337.1L256.2 337.1L257.7 337L259.2 336.9L260.7 336.8L262.2 336.7L263.7 336.5L265.2 336.4L266.7 336.3L268.2 336.2L269.7 336.1L271.2 335.9L272.7 335.8L274.2 335.7L275.7 335.6L277.2 335.6L278.7 335.5L280.2 335.5L281.7 335.5L283.2 335.5L284.7 335.4L286.2 335.4L287.7 335.4L289.2 335.3L290.7 335.3L292.2 335.4L293.7 335.4L295.2 335.4L296.7 335.5L298.2 335.5L299.7 335.3L301.2 335.1L302.7 334.8L304.2 334.4L305.7 334L307.2 333.8L308.7 333.5L310.2 333.3L311.7 333.2L313.2 333L314.7 332.9L316.2 332.7L317.7 332.6L319.2 332.5L320.7 332.4L322.2 332.3L323.7 332.3L325.2 332.2L326.7 332.2L328.2 332.1L329.7 332.1L331.2 332"/>
<path fill="none" stroke="#8000d0" stroke-width="1.5" stroke-linejoin="round" d="M120.5 419.4L122 419.1L123.5 418.7L125 418.3L126.5 418.1L128 417.8L129.5 417.6L131 417.5L132.5 417.3L134 417.1L135.5 416.9L137 416.7L138.5 416.6L140 416.4L141.5 416.2L143 416.1L144.5 415.9L146 415.7L147.5 415.6L149 415.3L150.5 415L152 414.7L153.5 414.3L155 413.8L156.5 413.4L158 413L159.5 412.6L161 412.2L162.5 411.8L164 411.5L165.5 411.2L167 410.9L168.5 410.6L170 410.3L171.5 410L173 409.8L174.5 409.5L176 409.2L177.5 409L179 408.7L180.5 408.5L182 408.3L183.5 408.1L185 407.9L186.5 407.7L188 407.4L189.5 407.3L191 407.1L192.5 407L194 407L195.5 407L197 407L198.5 407.1L200 407.2L201.5 407.3L203 407.5L204.5 407.8L206 408L207.5 408.3L209 408.5L210.5 408.8L212 409.2L213.5 409.5L215 409.9L216.5 410.3L218 410.7L219.5 411.2L221 411.6L222.5 412.1L224 412.7L225.5 413.3L227 413.9L228.5 414.6L230 415.3L231.5 416.1L233 417L234.5 417.9L236 419L237.5 420.1L239 421.3L240.5 422.4L242 423.7L243.5 424.9L245 426.2L246.5 427.6L248 428.9L249.5 430.3L251 431.6L252.5 432.9L254 434.1L255.5 435.4L257 436.6L258.5 437.8L260 439L261.5 440.1L263 441.2L264.5 442.2L266 443.2L267.5 444.2L269 445.1L270.5 445.9L272 446.6L273.5 447.2L275 447.8L276.5 448.3L278 448.8L279.5 449.3L281 449.7L282.5 450L284 450.3L285.5 450.5L287 450.8L288.5 451L290 451.1L291.5 451.2L293 451.3L294.5 451.3L296 451.4L297.5 451.5L299 451.6L300.5 451.6L302 451.7L303.5 451.7L305 451.8L306.5 451.9L308 451.9L309.5 452L311 452L312.5 452.1L314 452.2L315.5 452.2L317 452.3L318.5 452.3L320 452.4L321.5 452.4L323 452.5L324.5 452.6L326 452.6L327.5 452.7L329 452.7L330.5 452.7"/>
<path fill="#000" d="M148.6 0h2V16.2h3.7L149.6 25.6L144.9 16.2h3.7z"/>
<path fill="#ff1010" d="M187.8 0h2V16.2h3.7L188.8 25.6L184.1 16.2h3.7z"/>
<path fill="#156515" d="M251.6 0h2V16.2h3.7L252.6 25.6L247.9 16.2h3.7z"/>
<path fill="#1020ff" d="M290.6 0h2V16.2h3.7L291.6 25.6L286.9 16.2h3.7z"/>
<path fill="#ff1010" d="M302.8 0h2V16.2h3.7L303.8 25.6L299.1 16.2h3.7z"/>
<path fill="#156515" d="M316.4 0h2V16.2h3.7L317.4 25.6L312.7 16.2h3.7z"/>
<path fill="#000" d="M330.7 0h2V16.2h3.7L331.7 25.6L327 16.2h3.7z"/>
<rect x="337.7" y="29.4" width="18.0" height="220.4" fill="url(#cb)" stroke="#000" stroke-width="1.3"/>
<path stroke="#000" stroke-width="1.05" fill="none" d="M337.7 47.8h2.8M355.7 47.8h-2.8M337.7 66.1h2.8M355.7 66.1h-2.8M337.7 84.5h2.8M355.7 84.5h-2.8M337.7 102.9h2.8M355.7 102.9h-2.8M337.7 121.2h2.8M355.7 121.2h-2.8M337.7 139.6h2.8M355.7 139.6h-2.8M337.7 158h2.8M355.7 158h-2.8M337.7 176.3h2.8M355.7 176.3h-2.8M337.7 194.7h2.8M355.7 194.7h-2.8M337.7 213.1h2.8M355.7 213.1h-2.8M337.7 231.4h2.8M355.7 231.4h-2.8"/>
<text x="377.4" y="33.4" font-size="11.5" text-anchor="end">4.2</text>
<text x="377.4" y="70.1" font-size="11.5" text-anchor="end">3.2</text>
<text x="377.4" y="106.9" font-size="11.5" text-anchor="end">2.1</text>
<text x="377.4" y="143.6" font-size="11.5" text-anchor="end">1.1</text>
<text x="377.4" y="180.3" font-size="11.5" text-anchor="end">0.1</text>
<text x="377.4" y="217.1" font-size="11.5" text-anchor="end">-1.0</text>
<text x="377.4" y="253.8" font-size="11.5" text-anchor="end">-2.0</text>
<text transform="translate(396.3 138.8) rotate(-90)" font-size="14.3" text-anchor="middle">ΔA / mOD</text>
<text x="47.2" y="35.5" font-size="14.3" text-anchor="end">700</text>
<text x="47.2" y="97.2" font-size="14.3" text-anchor="end">600</text>
<text x="47.2" y="158.8" font-size="14.3" text-anchor="end">500</text>
<text x="47.2" y="220.5" font-size="14.3" text-anchor="end">400</text>
<text transform="translate(13.4 151.3) rotate(-90)" font-size="14" text-anchor="middle">Wavelength / nm</text>
<text transform="translate(11.2 344) rotate(-90)" font-size="14.5" text-anchor="middle">ΔA / mOD</text>
<text x="74.5" y="54.7" font-size="14" text-anchor="middle">(a)</text>
<text x="74.5" y="272.3" font-size="14" text-anchor="middle">(b)</text>
<text x="47" y="317" font-size="14.3" text-anchor="end">0</text>
<text x="47" y="285.8" font-size="14.3" text-anchor="end">2</text>
<text x="47" y="254.5" font-size="14.3" text-anchor="end">4</text>
<text x="47" y="345.1" font-size="14.3" text-anchor="end">0</text>
<text x="47" y="365.5" font-size="14.3" text-anchor="end">-1</text>
<text x="47" y="385.9" font-size="14.3" text-anchor="end">-2</text>
<text x="47" y="458.2" font-size="14.3" text-anchor="end">0</text>
<text x="47" y="412.5" font-size="14.3" text-anchor="end">5</text>
<text x="101.1" y="478.2" font-size="14" text-anchor="middle">0</text>
<text x="149.2" y="478.2" font-size="14" text-anchor="middle">1</text>
<text x="200.6" y="478.2" font-size="14" text-anchor="middle">10</text>
<text x="252" y="478.2" font-size="14" text-anchor="middle">100</text>
<text x="302.8" y="478.2" font-size="14" text-anchor="middle">1000</text>
<text x="186.8" y="496.8" font-size="14.3" text-anchor="middle">Delay Time / ps</text>
<text x="292.1" y="282.2" font-size="14.2" text-anchor="middle">550 nm</text>
<text x="292.1" y="368.6" font-size="14.2" text-anchor="middle">416 nm</text>
<text x="292.1" y="424.8" font-size="14.2" text-anchor="middle">360 nm</text>
</svg></body></html>
